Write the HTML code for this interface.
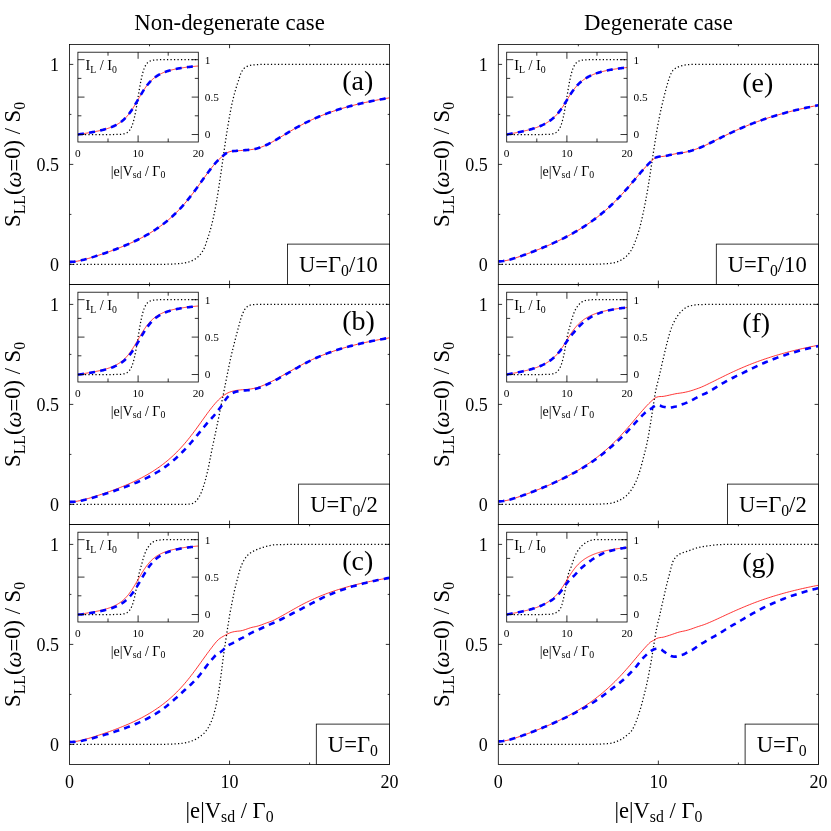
<!DOCTYPE html>
<html><head><meta charset="utf-8"><title>Noise figure</title>
<style>html,body{margin:0;padding:0;background:#fff;}body{width:831px;height:831px;overflow:hidden;transform:translateZ(0);font-family:"Liberation Serif",serif;}svg{display:block;will-change:transform}</style>
</head><body>
<svg width="831" height="831" viewBox="0 0 831 831" font-family='"Liberation Serif", serif' fill="#000">
<rect width="831" height="831" fill="#fff"/>
<clipPath id="c1"><rect x="69.5" y="44.4" width="320.1" height="240.0"/></clipPath>
<g clip-path="url(#c1)" fill="none">
<path d="M69.50,264.40 L71.10,264.40 L72.70,264.40 L74.30,264.40 L75.90,264.40 L77.50,264.40 L79.10,264.40 L80.70,264.40 L82.30,264.40 L83.90,264.40 L85.50,264.40 L87.11,264.40 L88.71,264.40 L90.31,264.40 L91.91,264.40 L93.51,264.40 L95.11,264.40 L96.71,264.40 L98.31,264.40 L99.91,264.40 L101.51,264.40 L103.11,264.40 L104.71,264.40 L106.31,264.40 L107.91,264.40 L109.51,264.40 L111.11,264.40 L112.71,264.40 L114.31,264.40 L115.91,264.40 L117.52,264.40 L119.12,264.40 L120.72,264.40 L122.32,264.40 L123.92,264.40 L125.52,264.40 L127.12,264.40 L128.72,264.40 L130.32,264.40 L131.92,264.40 L133.52,264.40 L135.12,264.40 L136.72,264.40 L138.32,264.40 L139.92,264.39 L141.52,264.39 L143.12,264.39 L144.72,264.39 L146.32,264.39 L147.92,264.39 L149.53,264.38 L151.13,264.38 L152.73,264.37 L154.33,264.37 L155.93,264.36 L157.53,264.35 L159.13,264.34 L160.73,264.33 L162.33,264.31 L163.93,264.29 L165.53,264.27 L167.13,264.24 L168.73,264.20 L170.33,264.16 L171.93,264.10 L173.53,264.04 L175.13,263.96 L176.73,263.86 L178.33,263.74 L179.93,263.59 L181.54,263.41 L183.14,263.19 L184.74,262.93 L186.34,262.61 L187.94,262.21 L189.54,261.73 L191.14,261.15 L192.74,260.44 L194.34,259.58 L195.94,258.53 L197.54,257.27 L199.14,255.74 L200.74,253.90 L202.34,251.69 L203.94,248.94 L205.54,244.87 L207.14,240.00 L208.74,235.10 L210.34,229.91 L211.94,223.89 L213.55,216.96 L215.15,209.08 L216.75,200.25 L218.35,190.50 L219.95,179.96 L221.55,168.94 L223.15,157.65 L224.75,146.29 L226.35,135.54 L227.95,125.56 L229.55,116.19 L231.15,107.61 L232.75,100.21 L234.35,94.12 L235.95,88.39 L237.55,83.38 L239.15,78.48 L240.75,73.63 L242.35,70.49 L243.95,68.42 L245.56,67.24 L247.16,66.39 L248.76,65.78 L250.36,65.36 L251.96,65.06 L253.56,64.85 L255.16,64.71 L256.76,64.61 L258.36,64.54 L259.96,64.50 L261.56,64.46 L263.16,64.44 L264.76,64.43 L266.36,64.42 L267.96,64.41 L269.56,64.41 L271.16,64.41 L272.76,64.40 L274.36,64.40 L275.96,64.40 L277.57,64.40 L279.17,64.40 L280.77,64.40 L282.37,64.40 L283.97,64.40 L285.57,64.40 L287.17,64.40 L288.77,64.40 L290.37,64.40 L291.97,64.40 L293.57,64.40 L295.17,64.40 L296.77,64.40 L298.37,64.40 L299.97,64.40 L301.57,64.40 L303.17,64.40 L304.77,64.40 L306.37,64.40 L307.97,64.40 L309.58,64.40 L311.18,64.40 L312.78,64.40 L314.38,64.40 L315.98,64.40 L317.58,64.40 L319.18,64.40 L320.78,64.40 L322.38,64.40 L323.98,64.40 L325.58,64.40 L327.18,64.40 L328.78,64.40 L330.38,64.40 L331.98,64.40 L333.58,64.40 L335.18,64.40 L336.78,64.40 L338.38,64.40 L339.98,64.40 L341.59,64.40 L343.19,64.40 L344.79,64.40 L346.39,64.40 L347.99,64.40 L349.59,64.40 L351.19,64.40 L352.79,64.40 L354.39,64.40 L355.99,64.40 L357.59,64.40 L359.19,64.40 L360.79,64.40 L362.39,64.40 L363.99,64.40 L365.59,64.40 L367.19,64.40 L368.79,64.40 L370.39,64.40 L371.99,64.40 L373.60,64.40 L375.20,64.40 L376.80,64.40 L378.40,64.40 L380.00,64.40 L381.60,64.40 L383.20,64.40 L384.80,64.40 L386.40,64.40 L388.00,64.40 L389.60,64.40" stroke="#000" stroke-width="1.25" stroke-dasharray="1.25 2.25"/>
<path d="M69.50,261.89 L71.10,261.86 L72.70,261.77 L74.30,261.61 L75.90,261.40 L77.50,261.13 L79.10,260.82 L80.70,260.47 L82.30,260.09 L83.90,259.69 L85.50,259.26 L87.11,258.81 L88.71,258.34 L90.31,257.87 L91.91,257.38 L93.51,256.88 L95.11,256.38 L96.71,255.86 L98.31,255.34 L99.91,254.82 L101.51,254.29 L103.11,253.75 L104.71,253.20 L106.31,252.65 L107.91,252.09 L109.51,251.52 L111.11,250.94 L112.71,250.36 L114.31,249.76 L115.91,249.16 L117.52,248.55 L119.12,247.93 L120.72,247.29 L122.32,246.65 L123.92,245.99 L125.52,245.32 L127.12,244.64 L128.72,243.95 L130.32,243.24 L131.92,242.52 L133.52,241.78 L135.12,241.02 L136.72,240.25 L138.32,239.46 L139.92,238.65 L141.52,237.82 L143.12,236.97 L144.72,236.09 L146.32,235.20 L147.92,234.28 L149.53,233.34 L151.13,232.37 L152.73,231.37 L154.33,230.34 L155.93,229.28 L157.53,228.20 L159.13,227.08 L160.73,225.92 L162.33,224.73 L163.93,223.50 L165.53,222.23 L167.13,220.93 L168.73,219.58 L170.33,218.18 L171.93,216.75 L173.53,215.26 L175.13,213.73 L176.73,212.15 L178.33,210.51 L179.93,208.83 L181.54,207.09 L183.14,205.31 L184.74,203.46 L186.34,201.57 L187.94,199.63 L189.54,197.63 L191.14,195.59 L192.74,193.51 L194.34,191.38 L195.94,189.22 L197.54,187.02 L199.14,184.81 L200.74,182.57 L202.34,180.33 L203.94,178.09 L205.54,175.86 L207.14,173.66 L208.74,171.49 L210.34,169.38 L211.94,167.33 L213.55,165.36 L215.15,163.48 L216.75,161.70 L218.35,160.04 L219.95,158.50 L221.55,157.10 L223.15,155.73 L224.75,154.38 L226.35,153.20 L227.95,152.31 L229.55,151.71 L231.15,151.34 L232.75,151.12 L234.35,150.99 L235.95,150.91 L237.55,150.79 L239.15,150.65 L240.75,150.52 L242.35,150.40 L243.95,150.28 L245.56,150.15 L247.16,150.01 L248.76,149.85 L250.36,149.69 L251.96,149.49 L253.56,149.23 L255.16,148.92 L256.76,148.54 L258.36,148.10 L259.96,147.60 L261.56,147.03 L263.16,146.41 L264.76,145.73 L266.36,145.00 L267.96,144.23 L269.56,143.41 L271.16,142.56 L272.76,141.68 L274.36,140.77 L275.96,139.84 L277.57,138.90 L279.17,137.94 L280.77,136.98 L282.37,136.00 L283.97,135.03 L285.57,134.06 L287.17,133.09 L288.77,132.13 L290.37,131.18 L291.97,130.24 L293.57,129.31 L295.17,128.39 L296.77,127.49 L298.37,126.60 L299.97,125.73 L301.57,124.87 L303.17,124.03 L304.77,123.20 L306.37,122.40 L307.97,121.61 L309.58,120.83 L311.18,120.08 L312.78,119.34 L314.38,118.62 L315.98,117.91 L317.58,117.22 L319.18,116.55 L320.78,115.89 L322.38,115.25 L323.98,114.62 L325.58,114.00 L327.18,113.40 L328.78,112.82 L330.38,112.24 L331.98,111.69 L333.58,111.14 L335.18,110.61 L336.78,110.08 L338.38,109.57 L339.98,109.07 L341.59,108.59 L343.19,108.11 L344.79,107.64 L346.39,107.19 L347.99,106.74 L349.59,106.30 L351.19,105.88 L352.79,105.46 L354.39,105.05 L355.99,104.65 L357.59,104.25 L359.19,103.87 L360.79,103.49 L362.39,103.12 L363.99,102.76 L365.59,102.40 L367.19,102.06 L368.79,101.72 L370.39,101.38 L371.99,101.05 L373.60,100.73 L375.20,100.41 L376.80,100.10 L378.40,99.80 L380.00,99.50 L381.60,99.20 L383.20,98.92 L384.80,98.63 L386.40,98.35 L388.00,98.08 L389.60,97.81" stroke="#ff0000" stroke-width="0.8"/>
<path d="M69.50,261.89 L71.10,261.86 L72.70,261.77 L74.30,261.61 L75.90,261.40 L77.50,261.13 L79.10,260.82 L80.70,260.47 L82.30,260.09 L83.90,259.69 L85.50,259.26 L87.11,258.81 L88.71,258.34 L90.31,257.87 L91.91,257.38 L93.51,256.88 L95.11,256.38 L96.71,255.86 L98.31,255.34 L99.91,254.82 L101.51,254.29 L103.11,253.75 L104.71,253.20 L106.31,252.65 L107.91,252.09 L109.51,251.52 L111.11,250.94 L112.71,250.36 L114.31,249.76 L115.91,249.16 L117.52,248.55 L119.12,247.93 L120.72,247.29 L122.32,246.65 L123.92,245.99 L125.52,245.32 L127.12,244.64 L128.72,243.95 L130.32,243.24 L131.92,242.52 L133.52,241.78 L135.12,241.02 L136.72,240.25 L138.32,239.46 L139.92,238.65 L141.52,237.82 L143.12,236.97 L144.72,236.09 L146.32,235.20 L147.92,234.28 L149.53,233.34 L151.13,232.37 L152.73,231.37 L154.33,230.34 L155.93,229.28 L157.53,228.20 L159.13,227.08 L160.73,225.92 L162.33,224.73 L163.93,223.50 L165.53,222.23 L167.13,220.93 L168.73,219.58 L170.33,218.18 L171.93,216.75 L173.53,215.26 L175.13,213.73 L176.73,212.15 L178.33,210.51 L179.93,208.83 L181.54,207.09 L183.14,205.31 L184.74,203.46 L186.34,201.57 L187.94,199.63 L189.54,197.63 L191.14,195.59 L192.74,193.51 L194.34,191.38 L195.94,189.22 L197.54,187.02 L199.14,184.81 L200.74,182.57 L202.34,180.33 L203.94,178.09 L205.54,175.86 L207.14,173.66 L208.74,171.49 L210.34,169.38 L211.94,167.33 L213.55,165.36 L215.15,163.48 L216.75,161.70 L218.35,160.04 L219.95,158.50 L221.55,157.10 L223.15,155.73 L224.75,154.38 L226.35,153.20 L227.95,152.31 L229.55,151.71 L231.15,151.34 L232.75,151.12 L234.35,150.99 L235.95,150.91 L237.55,150.79 L239.15,150.65 L240.75,150.52 L242.35,150.40 L243.95,150.28 L245.56,150.15 L247.16,150.01 L248.76,149.85 L250.36,149.69 L251.96,149.49 L253.56,149.23 L255.16,148.92 L256.76,148.54 L258.36,148.10 L259.96,147.60 L261.56,147.03 L263.16,146.41 L264.76,145.73 L266.36,145.00 L267.96,144.23 L269.56,143.41 L271.16,142.56 L272.76,141.68 L274.36,140.77 L275.96,139.84 L277.57,138.90 L279.17,137.94 L280.77,136.98 L282.37,136.00 L283.97,135.03 L285.57,134.06 L287.17,133.09 L288.77,132.13 L290.37,131.18 L291.97,130.24 L293.57,129.31 L295.17,128.39 L296.77,127.49 L298.37,126.60 L299.97,125.73 L301.57,124.87 L303.17,124.03 L304.77,123.20 L306.37,122.40 L307.97,121.61 L309.58,120.83 L311.18,120.08 L312.78,119.34 L314.38,118.62 L315.98,117.91 L317.58,117.22 L319.18,116.55 L320.78,115.89 L322.38,115.25 L323.98,114.62 L325.58,114.00 L327.18,113.40 L328.78,112.82 L330.38,112.24 L331.98,111.69 L333.58,111.14 L335.18,110.61 L336.78,110.08 L338.38,109.57 L339.98,109.07 L341.59,108.59 L343.19,108.11 L344.79,107.64 L346.39,107.19 L347.99,106.74 L349.59,106.30 L351.19,105.88 L352.79,105.46 L354.39,105.05 L355.99,104.65 L357.59,104.25 L359.19,103.87 L360.79,103.49 L362.39,103.12 L363.99,102.76 L365.59,102.40 L367.19,102.06 L368.79,101.72 L370.39,101.38 L371.99,101.05 L373.60,100.73 L375.20,100.41 L376.80,100.10 L378.40,99.80 L380.00,99.50 L381.60,99.20 L383.20,98.92 L384.80,98.63 L386.40,98.35 L388.00,98.08 L389.60,97.81" stroke="#0000ff" stroke-width="2.6" stroke-dasharray="6.1 5.2"/>
</g>
<path d="M229.55,284.40v-3.8M229.55,44.40v3.8M149.53,284.40v-1.9M149.53,44.40v1.9M309.58,284.40v-1.9M309.58,44.40v1.9M69.50,264.40h3.8M389.60,264.40h-3.8M69.50,164.40h3.8M389.60,164.40h-3.8M69.50,64.40h3.8M389.60,64.40h-3.8M69.50,214.40h1.9M389.60,214.40h-1.9M69.50,114.40h1.9M389.60,114.40h-1.9" stroke="#000" stroke-width="0.8" fill="none"/>
<rect x="69.5" y="44.4" width="320.1" height="240.0" fill="none" stroke="#000" stroke-width="0.8"/>
<text x="59.0" y="270.7" font-size="18" text-anchor="end">0</text>
<text x="59.0" y="170.7" font-size="18" text-anchor="end">0.5</text>
<text x="59.0" y="70.7" font-size="18" text-anchor="end">1</text>
<text transform="translate(19.7,164.4) rotate(-90)" font-size="22.6" text-anchor="middle">S<tspan font-size="15.8" dy="5">LL</tspan><tspan dy="-5">(</tspan><tspan font-style="italic" dy="0.8">ω</tspan><tspan dy="1.7">=</tspan><tspan dy="-2.5">0) / S</tspan><tspan font-size="15.8" dy="5">0</tspan></text>
<text x="342.3" y="89.6" font-size="28">(a)</text>
<rect x="287.50" y="244.10" width="102.10" height="40.3" fill="#fff" stroke="#000" stroke-width="0.8"/>
<text x="377.9" y="271.6" font-size="22.6" text-anchor="end">U=Γ<tspan font-size="15.8" dy="4.5">0</tspan><tspan dy="-4.5">/10</tspan></text>
<rect x="77.90" y="52.20" width="120.4" height="89.8" fill="#fff" stroke="none"/>
<clipPath id="c2"><rect x="77.90" y="52.20" width="120.4" height="89.8"/></clipPath>
<g clip-path="url(#c2)" fill="none">
<path d="M77.90,134.52 L78.50,134.52 L79.10,134.52 L79.71,134.52 L80.31,134.52 L80.91,134.52 L81.51,134.52 L82.11,134.52 L82.72,134.52 L83.32,134.52 L83.92,134.52 L84.52,134.52 L85.12,134.52 L85.73,134.52 L86.33,134.52 L86.93,134.52 L87.53,134.52 L88.13,134.52 L88.74,134.52 L89.34,134.52 L89.94,134.52 L90.54,134.52 L91.14,134.52 L91.75,134.52 L92.35,134.52 L92.95,134.52 L93.55,134.52 L94.15,134.52 L94.76,134.52 L95.36,134.52 L95.96,134.52 L96.56,134.52 L97.16,134.52 L97.77,134.52 L98.37,134.52 L98.97,134.52 L99.57,134.52 L100.17,134.52 L100.78,134.52 L101.38,134.52 L101.98,134.52 L102.58,134.52 L103.18,134.52 L103.79,134.52 L104.39,134.52 L104.99,134.52 L105.59,134.52 L106.19,134.51 L106.80,134.51 L107.40,134.51 L108.00,134.51 L108.60,134.51 L109.20,134.51 L109.81,134.51 L110.41,134.51 L111.01,134.51 L111.61,134.51 L112.21,134.50 L112.82,134.50 L113.42,134.50 L114.02,134.49 L114.62,134.49 L115.22,134.48 L115.83,134.47 L116.43,134.46 L117.03,134.45 L117.63,134.43 L118.23,134.42 L118.84,134.39 L119.44,134.37 L120.04,134.33 L120.64,134.29 L121.24,134.24 L121.85,134.18 L122.45,134.11 L123.05,134.02 L123.65,133.91 L124.25,133.77 L124.86,133.61 L125.46,133.41 L126.06,133.17 L126.66,132.88 L127.26,132.53 L127.87,132.10 L128.47,131.59 L129.07,130.97 L129.67,130.23 L130.27,129.34 L130.88,128.29 L131.48,127.05 L132.08,125.60 L132.68,123.90 L133.28,121.95 L133.89,119.71 L134.49,117.19 L135.09,114.39 L135.69,111.32 L136.29,108.00 L136.90,104.49 L137.50,100.83 L138.10,97.10 L138.70,93.37 L139.30,89.71 L139.91,86.20 L140.51,82.88 L141.11,79.81 L141.71,77.01 L142.31,74.49 L142.92,72.25 L143.52,70.30 L144.12,68.60 L144.72,67.15 L145.32,65.91 L145.93,64.86 L146.53,63.97 L147.13,63.23 L147.73,62.61 L148.33,62.10 L148.94,61.67 L149.54,61.32 L150.14,61.03 L150.74,60.79 L151.34,60.59 L151.95,60.43 L152.55,60.29 L153.15,60.18 L153.75,60.09 L154.35,60.02 L154.96,59.96 L155.56,59.91 L156.16,59.87 L156.76,59.83 L157.36,59.81 L157.97,59.78 L158.57,59.77 L159.17,59.75 L159.77,59.74 L160.37,59.73 L160.98,59.72 L161.58,59.71 L162.18,59.71 L162.78,59.70 L163.38,59.70 L163.99,59.70 L164.59,59.69 L165.19,59.69 L165.79,59.69 L166.39,59.69 L167.00,59.69 L167.60,59.69 L168.20,59.69 L168.80,59.69 L169.40,59.69 L170.01,59.69 L170.61,59.68 L171.21,59.68 L171.81,59.68 L172.41,59.68 L173.02,59.68 L173.62,59.68 L174.22,59.68 L174.82,59.68 L175.42,59.68 L176.03,59.68 L176.63,59.68 L177.23,59.68 L177.83,59.68 L178.43,59.68 L179.04,59.68 L179.64,59.68 L180.24,59.68 L180.84,59.68 L181.44,59.68 L182.05,59.68 L182.65,59.68 L183.25,59.68 L183.85,59.68 L184.45,59.68 L185.06,59.68 L185.66,59.68 L186.26,59.68 L186.86,59.68 L187.46,59.68 L188.07,59.68 L188.67,59.68 L189.27,59.68 L189.87,59.68 L190.47,59.68 L191.08,59.68 L191.68,59.68 L192.28,59.68 L192.88,59.68 L193.48,59.68 L194.09,59.68 L194.69,59.68 L195.29,59.68 L195.89,59.68 L196.49,59.68 L197.10,59.68 L197.70,59.68 L198.30,59.68" stroke="#000" stroke-width="1.25" stroke-dasharray="1.25 2.25"/>
<path d="M77.90,134.52 L78.50,134.42 L79.10,134.33 L79.71,134.24 L80.31,134.14 L80.91,134.05 L81.51,133.95 L82.11,133.86 L82.72,133.76 L83.32,133.67 L83.92,133.57 L84.52,133.47 L85.12,133.38 L85.73,133.28 L86.33,133.18 L86.93,133.08 L87.53,132.98 L88.13,132.88 L88.74,132.77 L89.34,132.67 L89.94,132.57 L90.54,132.46 L91.14,132.35 L91.75,132.24 L92.35,132.13 L92.95,132.02 L93.55,131.91 L94.15,131.79 L94.76,131.68 L95.36,131.56 L95.96,131.44 L96.56,131.31 L97.16,131.19 L97.77,131.06 L98.37,130.93 L98.97,130.80 L99.57,130.66 L100.17,130.52 L100.78,130.38 L101.38,130.24 L101.98,130.09 L102.58,129.94 L103.18,129.78 L103.79,129.62 L104.39,129.46 L104.99,129.29 L105.59,129.11 L106.19,128.93 L106.80,128.75 L107.40,128.56 L108.00,128.37 L108.60,128.17 L109.20,127.96 L109.81,127.74 L110.41,127.52 L111.01,127.29 L111.61,127.05 L112.21,126.81 L112.82,126.55 L113.42,126.29 L114.02,126.01 L114.62,125.73 L115.22,125.43 L115.83,125.12 L116.43,124.80 L117.03,124.47 L117.63,124.12 L118.23,123.76 L118.84,123.38 L119.44,122.98 L120.04,122.57 L120.64,122.14 L121.24,121.69 L121.85,121.22 L122.45,120.73 L123.05,120.22 L123.65,119.69 L124.25,119.13 L124.86,118.55 L125.46,117.94 L126.06,117.31 L126.66,116.65 L127.26,115.97 L127.87,115.26 L128.47,114.52 L129.07,113.75 L129.67,112.95 L130.27,112.13 L130.88,111.28 L131.48,110.40 L132.08,109.50 L132.68,108.57 L133.28,107.63 L133.89,106.66 L134.49,105.67 L135.09,104.66 L135.69,103.64 L136.29,102.61 L136.90,101.57 L137.50,100.53 L138.10,99.48 L138.70,98.43 L139.30,97.38 L139.91,96.35 L140.51,95.32 L141.11,94.30 L141.71,93.29 L142.31,92.31 L142.92,91.34 L143.52,90.39 L144.12,89.47 L144.72,88.57 L145.32,87.70 L145.93,86.85 L146.53,86.03 L147.13,85.24 L147.73,84.47 L148.33,83.74 L148.94,83.03 L149.54,82.35 L150.14,81.69 L150.74,81.07 L151.34,80.46 L151.95,79.89 L152.55,79.34 L153.15,78.81 L153.75,78.31 L154.35,77.82 L154.96,77.36 L155.56,76.92 L156.16,76.50 L156.76,76.09 L157.36,75.70 L157.97,75.33 L158.57,74.98 L159.17,74.64 L159.77,74.31 L160.37,74.00 L160.98,73.70 L161.58,73.42 L162.18,73.14 L162.78,72.88 L163.38,72.62 L163.99,72.38 L164.59,72.14 L165.19,71.92 L165.79,71.70 L166.39,71.49 L167.00,71.29 L167.60,71.09 L168.20,70.91 L168.80,70.72 L169.40,70.55 L170.01,70.38 L170.61,70.22 L171.21,70.06 L171.81,69.90 L172.41,69.76 L173.02,69.61 L173.62,69.47 L174.22,69.34 L174.82,69.21 L175.42,69.08 L176.03,68.95 L176.63,68.83 L177.23,68.72 L177.83,68.60 L178.43,68.49 L179.04,68.39 L179.64,68.28 L180.24,68.18 L180.84,68.08 L181.44,67.98 L182.05,67.89 L182.65,67.80 L183.25,67.71 L183.85,67.62 L184.45,67.53 L185.06,67.45 L185.66,67.37 L186.26,67.29 L186.86,67.21 L187.46,67.14 L188.07,67.06 L188.67,66.99 L189.27,66.92 L189.87,66.85 L190.47,66.78 L191.08,66.71 L191.68,66.65 L192.28,66.58 L192.88,66.52 L193.48,66.46 L194.09,66.40 L194.69,66.34 L195.29,66.28 L195.89,66.23 L196.49,66.17 L197.10,66.12 L197.70,66.06 L198.30,66.01" stroke="#ff0000" stroke-width="0.8"/>
<path d="M77.90,134.52 L78.50,134.42 L79.10,134.33 L79.71,134.24 L80.31,134.14 L80.91,134.05 L81.51,133.95 L82.11,133.86 L82.72,133.76 L83.32,133.67 L83.92,133.57 L84.52,133.47 L85.12,133.38 L85.73,133.28 L86.33,133.18 L86.93,133.08 L87.53,132.98 L88.13,132.88 L88.74,132.77 L89.34,132.67 L89.94,132.57 L90.54,132.46 L91.14,132.35 L91.75,132.24 L92.35,132.13 L92.95,132.02 L93.55,131.91 L94.15,131.79 L94.76,131.68 L95.36,131.56 L95.96,131.44 L96.56,131.31 L97.16,131.19 L97.77,131.06 L98.37,130.93 L98.97,130.80 L99.57,130.66 L100.17,130.52 L100.78,130.38 L101.38,130.24 L101.98,130.09 L102.58,129.94 L103.18,129.78 L103.79,129.62 L104.39,129.46 L104.99,129.29 L105.59,129.11 L106.19,128.93 L106.80,128.75 L107.40,128.56 L108.00,128.37 L108.60,128.17 L109.20,127.96 L109.81,127.74 L110.41,127.52 L111.01,127.29 L111.61,127.05 L112.21,126.81 L112.82,126.55 L113.42,126.29 L114.02,126.01 L114.62,125.73 L115.22,125.43 L115.83,125.12 L116.43,124.80 L117.03,124.47 L117.63,124.12 L118.23,123.76 L118.84,123.38 L119.44,122.98 L120.04,122.57 L120.64,122.14 L121.24,121.69 L121.85,121.22 L122.45,120.73 L123.05,120.22 L123.65,119.69 L124.25,119.13 L124.86,118.55 L125.46,117.94 L126.06,117.31 L126.66,116.65 L127.26,115.97 L127.87,115.26 L128.47,114.52 L129.07,113.75 L129.67,112.95 L130.27,112.13 L130.88,111.28 L131.48,110.40 L132.08,109.50 L132.68,108.57 L133.28,107.63 L133.89,106.66 L134.49,105.67 L135.09,104.66 L135.69,103.64 L136.29,102.61 L136.90,101.57 L137.50,100.53 L138.10,99.48 L138.70,98.43 L139.30,97.38 L139.91,96.35 L140.51,95.32 L141.11,94.30 L141.71,93.29 L142.31,92.31 L142.92,91.34 L143.52,90.39 L144.12,89.47 L144.72,88.57 L145.32,87.70 L145.93,86.85 L146.53,86.03 L147.13,85.24 L147.73,84.47 L148.33,83.74 L148.94,83.03 L149.54,82.35 L150.14,81.69 L150.74,81.07 L151.34,80.46 L151.95,79.89 L152.55,79.34 L153.15,78.81 L153.75,78.31 L154.35,77.82 L154.96,77.36 L155.56,76.92 L156.16,76.50 L156.76,76.09 L157.36,75.70 L157.97,75.33 L158.57,74.98 L159.17,74.64 L159.77,74.31 L160.37,74.00 L160.98,73.70 L161.58,73.42 L162.18,73.14 L162.78,72.88 L163.38,72.62 L163.99,72.38 L164.59,72.14 L165.19,71.92 L165.79,71.70 L166.39,71.49 L167.00,71.29 L167.60,71.09 L168.20,70.91 L168.80,70.72 L169.40,70.55 L170.01,70.38 L170.61,70.22 L171.21,70.06 L171.81,69.90 L172.41,69.76 L173.02,69.61 L173.62,69.47 L174.22,69.34 L174.82,69.21 L175.42,69.08 L176.03,68.95 L176.63,68.83 L177.23,68.72 L177.83,68.60 L178.43,68.49 L179.04,68.39 L179.64,68.28 L180.24,68.18 L180.84,68.08 L181.44,67.98 L182.05,67.89 L182.65,67.80 L183.25,67.71 L183.85,67.62 L184.45,67.53 L185.06,67.45 L185.66,67.37 L186.26,67.29 L186.86,67.21 L187.46,67.14 L188.07,67.06 L188.67,66.99 L189.27,66.92 L189.87,66.85 L190.47,66.78 L191.08,66.71 L191.68,66.65 L192.28,66.58 L192.88,66.52 L193.48,66.46 L194.09,66.40 L194.69,66.34 L195.29,66.28 L195.89,66.23 L196.49,66.17 L197.10,66.12 L197.70,66.06 L198.30,66.01" stroke="#0000ff" stroke-width="2.6" stroke-dasharray="6.1 5.2"/>
</g>
<path d="M138.10,142.00v-6.6M138.10,52.20v6.6M108.00,142.00v-3.5M108.00,52.20v3.5M168.20,142.00v-3.5M168.20,52.20v3.5M77.90,134.52h6.6M198.30,134.52h-6.6M77.90,97.10h6.6M198.30,97.10h-6.6M77.90,59.68h6.6M198.30,59.68h-6.6M77.90,115.81h3.5M198.30,115.81h-3.5M77.90,78.39h3.5M198.30,78.39h-3.5" stroke="#000" stroke-width="0.8" fill="none"/>
<rect x="77.90" y="52.20" width="120.4" height="89.8" fill="none" stroke="#000" stroke-width="0.8"/>
<text x="77.9" y="156.9" font-size="11.3" text-anchor="middle">0</text>
<text x="138.1" y="156.9" font-size="11.3" text-anchor="middle">10</text>
<text x="198.3" y="156.9" font-size="11.3" text-anchor="middle">20</text>
<text x="204.8" y="138.3" font-size="11.3">0</text>
<text x="204.8" y="100.9" font-size="11.3">0.5</text>
<text x="204.8" y="63.5" font-size="11.3">1</text>
<text x="85.4" y="70.4" font-size="14.3">I<tspan font-size="9.8" dy="2.8">L</tspan><tspan dy="-2.8"> / I</tspan><tspan font-size="9.8" dy="2.8">0</tspan></text>
<text x="138.1" y="175.6" font-size="14" text-anchor="middle">|e|V<tspan font-size="9.8" dy="2.8">sd</tspan><tspan dy="-2.8"> / Γ</tspan><tspan font-size="9.8" dy="2.8">0</tspan></text>
<clipPath id="c3"><rect x="69.5" y="284.4" width="320.1" height="240.0"/></clipPath>
<g clip-path="url(#c3)" fill="none">
<path d="M69.50,504.40 L71.10,504.40 L72.70,504.40 L74.30,504.40 L75.90,504.40 L77.50,504.40 L79.10,504.40 L80.70,504.40 L82.30,504.40 L83.90,504.40 L85.50,504.40 L87.11,504.40 L88.71,504.40 L90.31,504.40 L91.91,504.40 L93.51,504.40 L95.11,504.40 L96.71,504.40 L98.31,504.40 L99.91,504.40 L101.51,504.40 L103.11,504.40 L104.71,504.40 L106.31,504.40 L107.91,504.40 L109.51,504.40 L111.11,504.40 L112.71,504.40 L114.31,504.40 L115.91,504.40 L117.52,504.40 L119.12,504.40 L120.72,504.40 L122.32,504.40 L123.92,504.40 L125.52,504.40 L127.12,504.40 L128.72,504.40 L130.32,504.40 L131.92,504.40 L133.52,504.40 L135.12,504.40 L136.72,504.40 L138.32,504.40 L139.92,504.40 L141.52,504.40 L143.12,504.40 L144.72,504.40 L146.32,504.40 L147.92,504.40 L149.53,504.40 L151.13,504.40 L152.73,504.40 L154.33,504.40 L155.93,504.40 L157.53,504.40 L159.13,504.40 L160.73,504.40 L162.33,504.40 L163.93,504.40 L165.53,504.40 L167.13,504.40 L168.73,504.40 L170.33,504.40 L171.93,504.40 L173.53,504.40 L175.13,504.40 L176.73,504.39 L178.33,504.38 L179.93,504.36 L181.54,504.34 L183.14,504.32 L184.74,504.30 L186.34,504.27 L187.94,504.23 L189.54,504.17 L191.14,504.04 L192.74,503.44 L194.34,502.50 L195.94,501.19 L197.54,499.26 L199.14,496.86 L200.74,493.76 L202.34,489.69 L203.94,485.02 L205.54,479.49 L207.14,473.11 L208.74,466.01 L210.34,457.79 L211.94,449.62 L213.55,441.99 L215.15,434.51 L216.75,426.94 L218.35,419.15 L219.95,411.23 L221.55,403.22 L223.15,395.17 L224.75,387.13 L226.35,379.15 L227.95,371.22 L229.55,363.24 L231.15,355.90 L232.75,349.29 L234.35,342.97 L235.95,336.76 L237.55,330.76 L239.15,324.78 L240.75,318.93 L242.35,314.40 L243.95,310.72 L245.56,308.16 L247.16,306.72 L248.76,305.64 L250.36,305.03 L251.96,304.77 L253.56,304.57 L255.16,304.45 L256.76,304.40 L258.36,304.40 L259.96,304.40 L261.56,304.40 L263.16,304.40 L264.76,304.40 L266.36,304.40 L267.96,304.40 L269.56,304.40 L271.16,304.40 L272.76,304.40 L274.36,304.40 L275.96,304.40 L277.57,304.40 L279.17,304.40 L280.77,304.40 L282.37,304.40 L283.97,304.40 L285.57,304.40 L287.17,304.40 L288.77,304.40 L290.37,304.40 L291.97,304.40 L293.57,304.40 L295.17,304.40 L296.77,304.40 L298.37,304.40 L299.97,304.40 L301.57,304.40 L303.17,304.40 L304.77,304.40 L306.37,304.40 L307.97,304.40 L309.58,304.40 L311.18,304.40 L312.78,304.40 L314.38,304.40 L315.98,304.40 L317.58,304.40 L319.18,304.40 L320.78,304.40 L322.38,304.40 L323.98,304.40 L325.58,304.40 L327.18,304.40 L328.78,304.40 L330.38,304.40 L331.98,304.40 L333.58,304.40 L335.18,304.40 L336.78,304.40 L338.38,304.40 L339.98,304.40 L341.59,304.40 L343.19,304.40 L344.79,304.40 L346.39,304.40 L347.99,304.40 L349.59,304.40 L351.19,304.40 L352.79,304.40 L354.39,304.40 L355.99,304.40 L357.59,304.40 L359.19,304.40 L360.79,304.40 L362.39,304.40 L363.99,304.40 L365.59,304.40 L367.19,304.40 L368.79,304.40 L370.39,304.40 L371.99,304.40 L373.60,304.40 L375.20,304.40 L376.80,304.40 L378.40,304.40 L380.00,304.40 L381.60,304.40 L383.20,304.40 L384.80,304.40 L386.40,304.40 L388.00,304.40 L389.60,304.40" stroke="#000" stroke-width="1.25" stroke-dasharray="1.25 2.25"/>
<path d="M69.50,501.89 L71.10,501.86 L72.70,501.77 L74.30,501.61 L75.90,501.40 L77.50,501.13 L79.10,500.82 L80.70,500.47 L82.30,500.09 L83.90,499.69 L85.50,499.26 L87.11,498.81 L88.71,498.34 L90.31,497.87 L91.91,497.38 L93.51,496.88 L95.11,496.38 L96.71,495.86 L98.31,495.34 L99.91,494.82 L101.51,494.29 L103.11,493.75 L104.71,493.20 L106.31,492.65 L107.91,492.09 L109.51,491.52 L111.11,490.94 L112.71,490.36 L114.31,489.76 L115.91,489.16 L117.52,488.55 L119.12,487.93 L120.72,487.29 L122.32,486.65 L123.92,485.99 L125.52,485.32 L127.12,484.64 L128.72,483.95 L130.32,483.24 L131.92,482.52 L133.52,481.78 L135.12,481.02 L136.72,480.25 L138.32,479.46 L139.92,478.65 L141.52,477.82 L143.12,476.97 L144.72,476.09 L146.32,475.20 L147.92,474.28 L149.53,473.34 L151.13,472.37 L152.73,471.37 L154.33,470.34 L155.93,469.28 L157.53,468.20 L159.13,467.08 L160.73,465.92 L162.33,464.73 L163.93,463.50 L165.53,462.23 L167.13,460.93 L168.73,459.58 L170.33,458.18 L171.93,456.75 L173.53,455.26 L175.13,453.73 L176.73,452.15 L178.33,450.51 L179.93,448.83 L181.54,447.09 L183.14,445.31 L184.74,443.46 L186.34,441.57 L187.94,439.63 L189.54,437.63 L191.14,435.59 L192.74,433.51 L194.34,431.38 L195.94,429.22 L197.54,427.02 L199.14,424.81 L200.74,422.57 L202.34,420.33 L203.94,418.09 L205.54,415.86 L207.14,413.66 L208.74,411.49 L210.34,409.38 L211.94,407.33 L213.55,405.36 L215.15,403.48 L216.75,401.70 L218.35,400.04 L219.95,398.50 L221.55,397.10 L223.15,395.84 L224.75,394.72 L226.35,393.74 L227.95,392.90 L229.55,392.20 L231.15,391.63 L232.75,391.17 L234.35,390.79 L235.95,390.48 L237.55,390.24 L239.15,390.04 L240.75,389.89 L242.35,389.75 L243.95,389.63 L245.56,389.50 L247.16,389.37 L248.76,389.21 L250.36,389.01 L251.96,388.76 L253.56,388.46 L255.16,388.09 L256.76,387.67 L258.36,387.19 L259.96,386.65 L261.56,386.05 L263.16,385.41 L264.76,384.73 L266.36,384.01 L267.96,383.27 L269.56,382.50 L271.16,381.71 L272.76,380.89 L274.36,380.05 L275.96,379.19 L277.57,378.30 L279.17,377.40 L280.77,376.51 L282.37,375.61 L283.97,374.72 L285.57,373.83 L287.17,372.93 L288.77,372.04 L290.37,371.14 L291.97,370.23 L293.57,369.31 L295.17,368.39 L296.77,367.49 L298.37,366.60 L299.97,365.73 L301.57,364.87 L303.17,364.03 L304.77,363.20 L306.37,362.40 L307.97,361.61 L309.58,360.83 L311.18,360.08 L312.78,359.34 L314.38,358.62 L315.98,357.91 L317.58,357.22 L319.18,356.55 L320.78,355.89 L322.38,355.25 L323.98,354.62 L325.58,354.00 L327.18,353.40 L328.78,352.82 L330.38,352.24 L331.98,351.69 L333.58,351.14 L335.18,350.61 L336.78,350.08 L338.38,349.57 L339.98,349.07 L341.59,348.59 L343.19,348.11 L344.79,347.64 L346.39,347.19 L347.99,346.74 L349.59,346.30 L351.19,345.88 L352.79,345.46 L354.39,345.05 L355.99,344.65 L357.59,344.25 L359.19,343.87 L360.79,343.49 L362.39,343.12 L363.99,342.76 L365.59,342.40 L367.19,342.06 L368.79,341.72 L370.39,341.38 L371.99,341.05 L373.60,340.73 L375.20,340.41 L376.80,340.10 L378.40,339.80 L380.00,339.50 L381.60,339.20 L383.20,338.92 L384.80,338.63 L386.40,338.35 L388.00,338.08 L389.60,337.81" stroke="#ff0000" stroke-width="0.8"/>
<path d="M69.50,501.89 L71.10,501.90 L72.70,501.84 L74.30,501.72 L75.90,501.55 L77.50,501.32 L79.10,501.05 L80.70,500.74 L82.30,500.40 L83.90,500.03 L85.50,499.64 L87.11,499.24 L88.71,498.81 L90.31,498.38 L91.91,497.93 L93.51,497.48 L95.11,497.02 L96.71,496.55 L98.31,496.07 L99.91,495.58 L101.51,495.09 L103.11,494.59 L104.71,494.09 L106.31,493.57 L107.91,493.05 L109.51,492.53 L111.11,491.99 L112.71,491.45 L114.31,490.91 L115.91,490.35 L117.52,489.79 L119.12,489.22 L120.72,488.64 L122.32,488.06 L123.92,487.46 L125.52,486.86 L127.12,486.24 L128.72,485.62 L130.32,485.00 L131.92,484.37 L133.52,483.74 L135.12,483.10 L136.72,482.44 L138.32,481.77 L139.92,481.08 L141.52,480.38 L143.12,479.65 L144.72,478.89 L146.32,478.12 L147.92,477.32 L149.53,476.50 L151.13,475.66 L152.73,474.79 L154.33,473.89 L155.93,472.97 L157.53,472.01 L159.13,471.02 L160.73,469.99 L162.33,468.93 L163.93,467.83 L165.53,466.68 L167.13,465.49 L168.73,464.26 L170.33,462.99 L171.93,461.67 L173.53,460.31 L175.13,458.90 L176.73,457.45 L178.33,455.96 L179.93,454.43 L181.54,452.85 L183.14,451.23 L184.74,449.57 L186.34,447.86 L187.94,446.11 L189.54,444.32 L191.14,442.49 L192.74,440.62 L194.34,438.72 L195.94,436.78 L197.54,434.82 L199.14,432.86 L200.74,430.90 L202.34,428.94 L203.94,427.00 L205.54,425.06 L207.14,423.19 L208.74,421.41 L210.34,419.67 L211.94,417.92 L213.55,416.13 L215.15,414.24 L216.75,412.20 L218.35,410.08 L219.95,407.96 L221.55,405.86 L223.15,403.36 L224.75,400.74 L226.35,398.53 L227.95,396.64 L229.55,395.01 L231.15,393.83 L232.75,393.01 L234.35,392.32 L235.95,391.77 L237.55,391.35 L239.15,391.06 L240.75,390.87 L242.35,390.71 L243.95,390.56 L245.56,390.42 L247.16,390.27 L248.76,390.10 L250.36,389.89 L251.96,389.63 L253.56,389.32 L255.16,388.95 L256.76,388.51 L258.36,388.02 L259.96,387.48 L261.56,386.88 L263.16,386.23 L264.76,385.53 L266.36,384.80 L267.96,384.05 L269.56,383.27 L271.16,382.47 L272.76,381.64 L274.36,380.79 L275.96,379.91 L277.57,379.02 L279.17,378.11 L280.77,377.21 L282.37,376.30 L283.97,375.40 L285.57,374.50 L287.17,373.59 L288.77,372.68 L290.37,371.77 L291.97,370.84 L293.57,369.91 L295.17,368.97 L296.77,368.04 L298.37,367.13 L299.97,366.22 L301.57,365.33 L303.17,364.45 L304.77,363.59 L306.37,362.74 L307.97,361.91 L309.58,361.09 L311.18,360.30 L312.78,359.52 L314.38,358.76 L315.98,358.02 L317.58,357.30 L319.18,356.60 L320.78,355.92 L322.38,355.26 L323.98,354.62 L325.58,354.00 L327.18,353.40 L328.78,352.82 L330.38,352.24 L331.98,351.69 L333.58,351.14 L335.18,350.61 L336.78,350.08 L338.38,349.57 L339.98,349.07 L341.59,348.59 L343.19,348.11 L344.79,347.64 L346.39,347.19 L347.99,346.74 L349.59,346.30 L351.19,345.88 L352.79,345.46 L354.39,345.05 L355.99,344.65 L357.59,344.25 L359.19,343.87 L360.79,343.49 L362.39,343.12 L363.99,342.76 L365.59,342.40 L367.19,342.06 L368.79,341.72 L370.39,341.38 L371.99,341.05 L373.60,340.73 L375.20,340.41 L376.80,340.10 L378.40,339.80 L380.00,339.50 L381.60,339.20 L383.20,338.92 L384.80,338.63 L386.40,338.35 L388.00,338.08 L389.60,337.81" stroke="#0000ff" stroke-width="2.6" stroke-dasharray="6.1 5.2"/>
</g>
<path d="M229.55,524.40v-3.8M229.55,284.40v3.8M149.53,524.40v-1.9M149.53,284.40v1.9M309.58,524.40v-1.9M309.58,284.40v1.9M69.50,504.40h3.8M389.60,504.40h-3.8M69.50,404.40h3.8M389.60,404.40h-3.8M69.50,304.40h3.8M389.60,304.40h-3.8M69.50,454.40h1.9M389.60,454.40h-1.9M69.50,354.40h1.9M389.60,354.40h-1.9" stroke="#000" stroke-width="0.8" fill="none"/>
<rect x="69.5" y="284.4" width="320.1" height="240.0" fill="none" stroke="#000" stroke-width="0.8"/>
<text x="59.0" y="510.7" font-size="18" text-anchor="end">0</text>
<text x="59.0" y="410.7" font-size="18" text-anchor="end">0.5</text>
<text x="59.0" y="310.7" font-size="18" text-anchor="end">1</text>
<text transform="translate(19.7,404.4) rotate(-90)" font-size="22.6" text-anchor="middle">S<tspan font-size="15.8" dy="5">LL</tspan><tspan dy="-5">(</tspan><tspan font-style="italic" dy="0.8">ω</tspan><tspan dy="1.7">=</tspan><tspan dy="-2.5">0) / S</tspan><tspan font-size="15.8" dy="5">0</tspan></text>
<text x="342.3" y="329.6" font-size="28">(b)</text>
<rect x="298.60" y="484.10" width="91.00" height="40.3" fill="#fff" stroke="#000" stroke-width="0.8"/>
<text x="377.9" y="511.6" font-size="22.6" text-anchor="end">U=Γ<tspan font-size="15.8" dy="4.5">0</tspan><tspan dy="-4.5">/2</tspan></text>
<rect x="77.90" y="292.20" width="120.4" height="89.8" fill="#fff" stroke="none"/>
<clipPath id="c4"><rect x="77.90" y="292.20" width="120.4" height="89.8"/></clipPath>
<g clip-path="url(#c4)" fill="none">
<path d="M77.90,374.52 L78.50,374.52 L79.10,374.52 L79.71,374.52 L80.31,374.52 L80.91,374.52 L81.51,374.52 L82.11,374.52 L82.72,374.52 L83.32,374.52 L83.92,374.52 L84.52,374.52 L85.12,374.52 L85.73,374.52 L86.33,374.52 L86.93,374.52 L87.53,374.52 L88.13,374.52 L88.74,374.52 L89.34,374.52 L89.94,374.52 L90.54,374.52 L91.14,374.52 L91.75,374.52 L92.35,374.52 L92.95,374.52 L93.55,374.52 L94.15,374.52 L94.76,374.52 L95.36,374.52 L95.96,374.52 L96.56,374.52 L97.16,374.52 L97.77,374.52 L98.37,374.52 L98.97,374.52 L99.57,374.52 L100.17,374.52 L100.78,374.52 L101.38,374.52 L101.98,374.52 L102.58,374.52 L103.18,374.52 L103.79,374.52 L104.39,374.52 L104.99,374.52 L105.59,374.52 L106.19,374.51 L106.80,374.51 L107.40,374.51 L108.00,374.51 L108.60,374.51 L109.20,374.51 L109.81,374.51 L110.41,374.51 L111.01,374.51 L111.61,374.51 L112.21,374.50 L112.82,374.50 L113.42,374.50 L114.02,374.49 L114.62,374.49 L115.22,374.48 L115.83,374.47 L116.43,374.46 L117.03,374.45 L117.63,374.43 L118.23,374.42 L118.84,374.39 L119.44,374.37 L120.04,374.33 L120.64,374.29 L121.24,374.24 L121.85,374.18 L122.45,374.11 L123.05,374.02 L123.65,373.91 L124.25,373.77 L124.86,373.61 L125.46,373.41 L126.06,373.17 L126.66,372.88 L127.26,372.53 L127.87,372.10 L128.47,371.59 L129.07,370.97 L129.67,370.23 L130.27,369.34 L130.88,368.29 L131.48,367.05 L132.08,365.60 L132.68,363.90 L133.28,361.95 L133.89,359.71 L134.49,357.19 L135.09,354.39 L135.69,351.32 L136.29,348.00 L136.90,344.49 L137.50,340.83 L138.10,337.10 L138.70,333.37 L139.30,329.71 L139.91,326.20 L140.51,322.88 L141.11,319.81 L141.71,317.01 L142.31,314.49 L142.92,312.25 L143.52,310.30 L144.12,308.60 L144.72,307.15 L145.32,305.91 L145.93,304.86 L146.53,303.97 L147.13,303.23 L147.73,302.61 L148.33,302.10 L148.94,301.67 L149.54,301.32 L150.14,301.03 L150.74,300.79 L151.34,300.59 L151.95,300.43 L152.55,300.29 L153.15,300.18 L153.75,300.09 L154.35,300.02 L154.96,299.96 L155.56,299.91 L156.16,299.87 L156.76,299.83 L157.36,299.81 L157.97,299.78 L158.57,299.77 L159.17,299.75 L159.77,299.74 L160.37,299.73 L160.98,299.72 L161.58,299.71 L162.18,299.71 L162.78,299.70 L163.38,299.70 L163.99,299.70 L164.59,299.69 L165.19,299.69 L165.79,299.69 L166.39,299.69 L167.00,299.69 L167.60,299.69 L168.20,299.69 L168.80,299.69 L169.40,299.69 L170.01,299.69 L170.61,299.68 L171.21,299.68 L171.81,299.68 L172.41,299.68 L173.02,299.68 L173.62,299.68 L174.22,299.68 L174.82,299.68 L175.42,299.68 L176.03,299.68 L176.63,299.68 L177.23,299.68 L177.83,299.68 L178.43,299.68 L179.04,299.68 L179.64,299.68 L180.24,299.68 L180.84,299.68 L181.44,299.68 L182.05,299.68 L182.65,299.68 L183.25,299.68 L183.85,299.68 L184.45,299.68 L185.06,299.68 L185.66,299.68 L186.26,299.68 L186.86,299.68 L187.46,299.68 L188.07,299.68 L188.67,299.68 L189.27,299.68 L189.87,299.68 L190.47,299.68 L191.08,299.68 L191.68,299.68 L192.28,299.68 L192.88,299.68 L193.48,299.68 L194.09,299.68 L194.69,299.68 L195.29,299.68 L195.89,299.68 L196.49,299.68 L197.10,299.68 L197.70,299.68 L198.30,299.68" stroke="#000" stroke-width="1.25" stroke-dasharray="1.25 2.25"/>
<path d="M77.90,374.52 L78.50,374.42 L79.10,374.33 L79.71,374.24 L80.31,374.14 L80.91,374.05 L81.51,373.95 L82.11,373.86 L82.72,373.76 L83.32,373.67 L83.92,373.57 L84.52,373.47 L85.12,373.38 L85.73,373.28 L86.33,373.18 L86.93,373.08 L87.53,372.98 L88.13,372.88 L88.74,372.77 L89.34,372.67 L89.94,372.57 L90.54,372.46 L91.14,372.35 L91.75,372.24 L92.35,372.13 L92.95,372.02 L93.55,371.91 L94.15,371.79 L94.76,371.68 L95.36,371.56 L95.96,371.44 L96.56,371.31 L97.16,371.19 L97.77,371.06 L98.37,370.93 L98.97,370.80 L99.57,370.66 L100.17,370.52 L100.78,370.38 L101.38,370.24 L101.98,370.09 L102.58,369.94 L103.18,369.78 L103.79,369.62 L104.39,369.46 L104.99,369.29 L105.59,369.11 L106.19,368.93 L106.80,368.75 L107.40,368.56 L108.00,368.37 L108.60,368.17 L109.20,367.96 L109.81,367.74 L110.41,367.52 L111.01,367.29 L111.61,367.05 L112.21,366.81 L112.82,366.55 L113.42,366.29 L114.02,366.01 L114.62,365.73 L115.22,365.43 L115.83,365.12 L116.43,364.80 L117.03,364.47 L117.63,364.12 L118.23,363.76 L118.84,363.38 L119.44,362.98 L120.04,362.57 L120.64,362.14 L121.24,361.69 L121.85,361.22 L122.45,360.73 L123.05,360.22 L123.65,359.69 L124.25,359.13 L124.86,358.55 L125.46,357.94 L126.06,357.31 L126.66,356.65 L127.26,355.97 L127.87,355.26 L128.47,354.52 L129.07,353.75 L129.67,352.95 L130.27,352.13 L130.88,351.28 L131.48,350.40 L132.08,349.50 L132.68,348.57 L133.28,347.63 L133.89,346.66 L134.49,345.67 L135.09,344.66 L135.69,343.64 L136.29,342.61 L136.90,341.57 L137.50,340.53 L138.10,339.48 L138.70,338.43 L139.30,337.38 L139.91,336.35 L140.51,335.32 L141.11,334.30 L141.71,333.29 L142.31,332.31 L142.92,331.34 L143.52,330.39 L144.12,329.47 L144.72,328.57 L145.32,327.70 L145.93,326.85 L146.53,326.03 L147.13,325.24 L147.73,324.47 L148.33,323.74 L148.94,323.03 L149.54,322.35 L150.14,321.69 L150.74,321.07 L151.34,320.46 L151.95,319.89 L152.55,319.34 L153.15,318.81 L153.75,318.31 L154.35,317.82 L154.96,317.36 L155.56,316.92 L156.16,316.50 L156.76,316.09 L157.36,315.70 L157.97,315.33 L158.57,314.98 L159.17,314.64 L159.77,314.31 L160.37,314.00 L160.98,313.70 L161.58,313.42 L162.18,313.14 L162.78,312.88 L163.38,312.62 L163.99,312.38 L164.59,312.14 L165.19,311.92 L165.79,311.70 L166.39,311.49 L167.00,311.29 L167.60,311.09 L168.20,310.91 L168.80,310.72 L169.40,310.55 L170.01,310.38 L170.61,310.22 L171.21,310.06 L171.81,309.90 L172.41,309.76 L173.02,309.61 L173.62,309.47 L174.22,309.34 L174.82,309.21 L175.42,309.08 L176.03,308.95 L176.63,308.83 L177.23,308.72 L177.83,308.60 L178.43,308.49 L179.04,308.39 L179.64,308.28 L180.24,308.18 L180.84,308.08 L181.44,307.98 L182.05,307.89 L182.65,307.80 L183.25,307.71 L183.85,307.62 L184.45,307.53 L185.06,307.45 L185.66,307.37 L186.26,307.29 L186.86,307.21 L187.46,307.14 L188.07,307.06 L188.67,306.99 L189.27,306.92 L189.87,306.85 L190.47,306.78 L191.08,306.71 L191.68,306.65 L192.28,306.58 L192.88,306.52 L193.48,306.46 L194.09,306.40 L194.69,306.34 L195.29,306.28 L195.89,306.23 L196.49,306.17 L197.10,306.12 L197.70,306.06 L198.30,306.01" stroke="#ff0000" stroke-width="0.8"/>
<path d="M77.90,374.52 L78.50,374.52 L79.10,374.52 L79.71,374.47 L80.31,374.38 L80.91,374.28 L81.51,374.19 L82.11,374.09 L82.72,374.00 L83.32,373.90 L83.92,373.81 L84.52,373.71 L85.12,373.62 L85.73,373.52 L86.33,373.42 L86.93,373.33 L87.53,373.23 L88.13,373.13 L88.74,373.03 L89.34,372.93 L89.94,372.83 L90.54,372.72 L91.14,372.62 L91.75,372.51 L92.35,372.41 L92.95,372.30 L93.55,372.19 L94.15,372.08 L94.76,371.97 L95.36,371.85 L95.96,371.74 L96.56,371.62 L97.16,371.50 L97.77,371.38 L98.37,371.25 L98.97,371.13 L99.57,371.00 L100.17,370.86 L100.78,370.73 L101.38,370.59 L101.98,370.45 L102.58,370.31 L103.18,370.16 L103.79,370.01 L104.39,369.86 L104.99,369.70 L105.59,369.54 L106.19,369.37 L106.80,369.20 L107.40,369.02 L108.00,368.84 L108.60,368.66 L109.20,368.46 L109.81,368.27 L110.41,368.06 L111.01,367.85 L111.61,367.63 L112.21,367.41 L112.82,367.17 L113.42,366.93 L114.02,366.68 L114.62,366.42 L115.22,366.15 L115.83,365.87 L116.43,365.58 L117.03,365.28 L117.63,364.96 L118.23,364.63 L118.84,364.29 L119.44,363.94 L120.04,363.57 L120.64,363.18 L121.24,362.78 L121.85,362.36 L122.45,361.92 L123.05,361.46 L123.65,360.98 L124.25,360.48 L124.86,359.96 L125.46,359.41 L126.06,358.84 L126.66,358.25 L127.26,357.63 L127.87,356.98 L128.47,356.31 L129.07,355.61 L129.67,354.89 L130.27,354.13 L130.88,353.35 L131.48,352.54 L132.08,351.70 L132.68,350.84 L133.28,349.95 L133.89,349.04 L134.49,348.10 L135.09,347.14 L135.69,346.16 L136.29,345.17 L136.90,344.15 L137.50,343.13 L138.10,342.09 L138.70,341.05 L139.30,340.00 L139.91,338.95 L140.51,337.91 L141.11,336.87 L141.71,335.83 L142.31,334.81 L142.92,333.80 L143.52,332.80 L144.12,331.82 L144.72,330.87 L145.32,329.93 L145.93,329.02 L146.53,328.13 L147.13,327.27 L147.73,326.44 L148.33,325.63 L148.94,324.85 L149.54,324.10 L150.14,323.38 L150.74,322.69 L151.34,322.02 L151.95,321.38 L152.55,320.77 L153.15,320.18 L153.75,319.61 L154.35,319.07 L154.96,318.56 L155.56,318.06 L156.16,317.59 L156.76,317.14 L157.36,316.71 L157.97,316.29 L158.57,315.90 L159.17,315.52 L159.77,315.16 L160.37,314.81 L160.98,314.48 L161.58,314.16 L162.18,313.85 L162.78,313.56 L163.38,313.28 L163.99,313.01 L164.59,312.75 L165.19,312.50 L165.79,312.26 L166.39,312.03 L167.00,311.81 L167.60,311.60 L168.20,311.39 L168.80,311.19 L169.40,311.00 L170.01,310.82 L170.61,310.64 L171.21,310.46 L171.81,310.30 L172.41,310.14 L173.02,309.98 L173.62,309.83 L174.22,309.68 L174.82,309.54 L175.42,309.40 L176.03,309.27 L176.63,309.14 L177.23,309.02 L177.83,308.89 L178.43,308.78 L179.04,308.66 L179.64,308.55 L180.24,308.44 L180.84,308.33 L181.44,308.23 L182.05,308.13 L182.65,308.03 L183.25,307.94 L183.85,307.84 L184.45,307.75 L185.06,307.66 L185.66,307.58 L186.26,307.49 L186.86,307.41 L187.46,307.33 L188.07,307.25 L188.67,307.17 L189.27,307.10 L189.87,307.03 L190.47,306.95 L191.08,306.88 L191.68,306.81 L192.28,306.75 L192.88,306.68 L193.48,306.62 L194.09,306.55 L194.69,306.49 L195.29,306.43 L195.89,306.37 L196.49,306.31 L197.10,306.25 L197.70,306.20 L198.30,306.14" stroke="#0000ff" stroke-width="2.6" stroke-dasharray="6.1 5.2"/>
</g>
<path d="M138.10,382.00v-6.6M138.10,292.20v6.6M108.00,382.00v-3.5M108.00,292.20v3.5M168.20,382.00v-3.5M168.20,292.20v3.5M77.90,374.52h6.6M198.30,374.52h-6.6M77.90,337.10h6.6M198.30,337.10h-6.6M77.90,299.68h6.6M198.30,299.68h-6.6M77.90,355.81h3.5M198.30,355.81h-3.5M77.90,318.39h3.5M198.30,318.39h-3.5" stroke="#000" stroke-width="0.8" fill="none"/>
<rect x="77.90" y="292.20" width="120.4" height="89.8" fill="none" stroke="#000" stroke-width="0.8"/>
<text x="77.9" y="396.9" font-size="11.3" text-anchor="middle">0</text>
<text x="138.1" y="396.9" font-size="11.3" text-anchor="middle">10</text>
<text x="198.3" y="396.9" font-size="11.3" text-anchor="middle">20</text>
<text x="204.8" y="378.3" font-size="11.3">0</text>
<text x="204.8" y="340.9" font-size="11.3">0.5</text>
<text x="204.8" y="303.5" font-size="11.3">1</text>
<text x="85.4" y="310.4" font-size="14.3">I<tspan font-size="9.8" dy="2.8">L</tspan><tspan dy="-2.8"> / I</tspan><tspan font-size="9.8" dy="2.8">0</tspan></text>
<text x="138.1" y="415.6" font-size="14" text-anchor="middle">|e|V<tspan font-size="9.8" dy="2.8">sd</tspan><tspan dy="-2.8"> / Γ</tspan><tspan font-size="9.8" dy="2.8">0</tspan></text>
<clipPath id="c5"><rect x="69.5" y="524.4" width="320.1" height="240.0"/></clipPath>
<g clip-path="url(#c5)" fill="none">
<path d="M69.50,744.40 L71.10,744.40 L72.70,744.40 L74.30,744.40 L75.90,744.40 L77.50,744.40 L79.10,744.40 L80.70,744.40 L82.30,744.40 L83.90,744.40 L85.50,744.40 L87.11,744.40 L88.71,744.40 L90.31,744.40 L91.91,744.40 L93.51,744.40 L95.11,744.40 L96.71,744.40 L98.31,744.40 L99.91,744.40 L101.51,744.40 L103.11,744.40 L104.71,744.40 L106.31,744.40 L107.91,744.40 L109.51,744.40 L111.11,744.40 L112.71,744.40 L114.31,744.40 L115.91,744.40 L117.52,744.40 L119.12,744.40 L120.72,744.40 L122.32,744.40 L123.92,744.40 L125.52,744.40 L127.12,744.40 L128.72,744.40 L130.32,744.40 L131.92,744.40 L133.52,744.40 L135.12,744.40 L136.72,744.40 L138.32,744.40 L139.92,744.39 L141.52,744.39 L143.12,744.39 L144.72,744.39 L146.32,744.39 L147.92,744.39 L149.53,744.38 L151.13,744.38 L152.73,744.37 L154.33,744.37 L155.93,744.36 L157.53,744.35 L159.13,744.34 L160.73,744.33 L162.33,744.31 L163.93,744.29 L165.53,744.27 L167.13,744.24 L168.73,744.20 L170.33,744.16 L171.93,744.10 L173.53,744.04 L175.13,743.96 L176.73,743.86 L178.33,743.74 L179.93,743.59 L181.54,743.41 L183.14,743.19 L184.74,742.93 L186.34,742.61 L187.94,742.21 L189.54,741.73 L191.14,741.19 L192.74,740.61 L194.34,739.94 L195.94,739.14 L197.54,738.17 L199.14,737.07 L200.74,736.00 L202.34,734.82 L203.94,733.35 L205.54,731.50 L207.14,729.44 L208.74,726.93 L210.34,723.72 L211.94,719.98 L213.55,715.38 L215.15,709.48 L216.75,702.44 L218.35,694.08 L219.95,683.46 L221.55,670.80 L223.15,658.21 L224.75,646.95 L226.35,636.29 L227.95,625.82 L229.55,615.63 L231.15,607.00 L232.75,599.17 L234.35,591.10 L235.95,584.51 L237.55,578.48 L239.15,572.20 L240.75,567.26 L242.35,563.31 L243.95,560.25 L245.56,557.76 L247.16,555.75 L248.76,554.19 L250.36,553.00 L251.96,551.99 L253.56,551.09 L255.16,550.28 L256.76,549.56 L258.36,548.93 L259.96,548.36 L261.56,547.81 L263.16,547.28 L264.76,546.79 L266.36,546.35 L267.96,545.94 L269.56,545.56 L271.16,545.24 L272.76,544.99 L274.36,544.83 L275.96,544.75 L277.57,544.70 L279.17,544.64 L280.77,544.60 L282.37,544.55 L283.97,544.51 L285.57,544.48 L287.17,544.45 L288.77,544.43 L290.37,544.41 L291.97,544.40 L293.57,544.40 L295.17,544.40 L296.77,544.40 L298.37,544.40 L299.97,544.40 L301.57,544.40 L303.17,544.40 L304.77,544.40 L306.37,544.40 L307.97,544.40 L309.58,544.40 L311.18,544.40 L312.78,544.40 L314.38,544.40 L315.98,544.40 L317.58,544.40 L319.18,544.40 L320.78,544.40 L322.38,544.40 L323.98,544.40 L325.58,544.40 L327.18,544.40 L328.78,544.40 L330.38,544.40 L331.98,544.40 L333.58,544.40 L335.18,544.40 L336.78,544.40 L338.38,544.40 L339.98,544.40 L341.59,544.40 L343.19,544.40 L344.79,544.40 L346.39,544.40 L347.99,544.40 L349.59,544.40 L351.19,544.40 L352.79,544.40 L354.39,544.40 L355.99,544.40 L357.59,544.40 L359.19,544.40 L360.79,544.40 L362.39,544.40 L363.99,544.40 L365.59,544.40 L367.19,544.40 L368.79,544.40 L370.39,544.40 L371.99,544.40 L373.60,544.40 L375.20,544.40 L376.80,544.40 L378.40,544.40 L380.00,544.40 L381.60,544.40 L383.20,544.40 L384.80,544.40 L386.40,544.40 L388.00,544.40 L389.60,544.40" stroke="#000" stroke-width="1.25" stroke-dasharray="1.25 2.25"/>
<path d="M69.50,741.89 L71.10,741.86 L72.70,741.77 L74.30,741.61 L75.90,741.40 L77.50,741.13 L79.10,740.82 L80.70,740.47 L82.30,740.09 L83.90,739.69 L85.50,739.26 L87.11,738.81 L88.71,738.34 L90.31,737.87 L91.91,737.38 L93.51,736.88 L95.11,736.38 L96.71,735.86 L98.31,735.34 L99.91,734.82 L101.51,734.29 L103.11,733.75 L104.71,733.20 L106.31,732.65 L107.91,732.09 L109.51,731.52 L111.11,730.94 L112.71,730.36 L114.31,729.76 L115.91,729.16 L117.52,728.55 L119.12,727.93 L120.72,727.29 L122.32,726.65 L123.92,725.99 L125.52,725.32 L127.12,724.64 L128.72,723.95 L130.32,723.24 L131.92,722.52 L133.52,721.78 L135.12,721.02 L136.72,720.25 L138.32,719.46 L139.92,718.65 L141.52,717.82 L143.12,716.97 L144.72,716.09 L146.32,715.20 L147.92,714.28 L149.53,713.34 L151.13,712.37 L152.73,711.37 L154.33,710.34 L155.93,709.28 L157.53,708.20 L159.13,707.08 L160.73,705.92 L162.33,704.73 L163.93,703.50 L165.53,702.23 L167.13,700.93 L168.73,699.58 L170.33,698.18 L171.93,696.75 L173.53,695.26 L175.13,693.73 L176.73,692.15 L178.33,690.51 L179.93,688.83 L181.54,687.09 L183.14,685.31 L184.74,683.46 L186.34,681.57 L187.94,679.63 L189.54,677.63 L191.14,675.59 L192.74,673.51 L194.34,671.38 L195.94,669.22 L197.54,667.02 L199.14,664.81 L200.74,662.57 L202.34,660.33 L203.94,658.09 L205.54,655.86 L207.14,653.66 L208.74,651.49 L210.34,649.38 L211.94,647.26 L213.55,645.16 L215.15,643.16 L216.75,641.31 L218.35,639.69 L219.95,638.38 L221.55,637.30 L223.15,636.36 L224.75,635.46 L226.35,634.54 L227.95,633.70 L229.55,633.00 L231.15,632.43 L232.75,631.98 L234.35,631.63 L235.95,631.37 L237.55,631.19 L239.15,631.06 L240.75,630.84 L242.35,630.48 L243.95,630.02 L245.56,629.49 L247.16,628.92 L248.76,628.36 L250.36,627.82 L251.96,627.37 L253.56,627.03 L255.16,626.72 L256.76,626.34 L258.36,625.90 L259.96,625.40 L261.56,624.83 L263.16,624.21 L264.76,623.57 L266.36,622.99 L267.96,622.43 L269.56,621.88 L271.16,621.30 L272.76,620.66 L274.36,619.93 L275.96,619.10 L277.57,618.25 L279.17,617.38 L280.77,616.50 L282.37,615.61 L283.97,614.71 L285.57,613.81 L287.17,612.91 L288.77,612.00 L290.37,611.10 L291.97,610.19 L293.57,609.29 L295.17,608.39 L296.77,607.49 L298.37,606.60 L299.97,605.73 L301.57,604.87 L303.17,604.03 L304.77,603.20 L306.37,602.40 L307.97,601.61 L309.58,600.83 L311.18,600.08 L312.78,599.34 L314.38,598.62 L315.98,597.91 L317.58,597.22 L319.18,596.55 L320.78,595.89 L322.38,595.25 L323.98,594.62 L325.58,594.00 L327.18,593.40 L328.78,592.82 L330.38,592.24 L331.98,591.69 L333.58,591.14 L335.18,590.61 L336.78,590.08 L338.38,589.57 L339.98,589.07 L341.59,588.59 L343.19,588.11 L344.79,587.64 L346.39,587.19 L347.99,586.74 L349.59,586.30 L351.19,585.88 L352.79,585.46 L354.39,585.05 L355.99,584.65 L357.59,584.25 L359.19,583.87 L360.79,583.49 L362.39,583.12 L363.99,582.76 L365.59,582.40 L367.19,582.06 L368.79,581.72 L370.39,581.38 L371.99,581.05 L373.60,580.73 L375.20,580.41 L376.80,580.10 L378.40,579.80 L380.00,579.50 L381.60,579.20 L383.20,578.92 L384.80,578.63 L386.40,578.35 L388.00,578.08 L389.60,577.81" stroke="#ff0000" stroke-width="0.8"/>
<path d="M69.50,741.89 L71.10,741.93 L72.70,741.91 L74.30,741.83 L75.90,741.69 L77.50,741.49 L79.10,741.26 L80.70,740.98 L82.30,740.68 L83.90,740.34 L85.50,739.99 L87.11,739.61 L88.71,739.23 L90.31,738.82 L91.91,738.41 L93.51,737.99 L95.11,737.56 L96.71,737.12 L98.31,736.68 L99.91,736.23 L101.51,735.78 L103.11,735.31 L104.71,734.84 L106.31,734.37 L107.91,733.89 L109.51,733.39 L111.11,732.90 L112.71,732.39 L114.31,731.87 L115.91,731.35 L117.52,730.81 L119.12,730.27 L120.72,729.72 L122.32,729.15 L123.92,728.58 L125.52,727.99 L127.12,727.39 L128.72,726.78 L130.32,726.15 L131.92,725.52 L133.52,724.87 L135.12,724.20 L136.72,723.53 L138.32,722.83 L139.92,722.13 L141.52,721.40 L143.12,720.65 L144.72,719.88 L146.32,719.08 L147.92,718.26 L149.53,717.41 L151.13,716.53 L152.73,715.62 L154.33,714.67 L155.93,713.68 L157.53,712.66 L159.13,711.59 L160.73,710.48 L162.33,709.34 L163.93,708.15 L165.53,706.92 L167.13,705.66 L168.73,704.36 L170.33,703.03 L171.93,701.66 L173.53,700.26 L175.13,698.84 L176.73,697.41 L178.33,695.97 L179.93,694.51 L181.54,693.02 L183.14,691.52 L184.74,690.07 L186.34,688.64 L187.94,687.21 L189.54,685.76 L191.14,684.26 L192.74,682.69 L194.34,681.02 L195.94,679.31 L197.54,677.57 L199.14,675.75 L200.74,673.78 L202.34,671.71 L203.94,669.57 L205.54,667.37 L207.14,665.19 L208.74,663.10 L210.34,661.17 L211.94,659.32 L213.55,657.52 L215.15,655.77 L216.75,654.19 L218.35,653.16 L219.95,652.28 L221.55,651.24 L223.15,649.87 L224.75,648.36 L226.35,646.72 L227.95,645.58 L229.55,644.67 L231.15,643.86 L232.75,643.09 L234.35,642.24 L235.95,641.33 L237.55,640.41 L239.15,639.52 L240.75,638.69 L242.35,637.94 L243.95,637.14 L245.56,636.25 L247.16,635.31 L248.76,634.36 L250.36,633.43 L251.96,632.56 L253.56,631.81 L255.16,631.13 L256.76,630.44 L258.36,629.74 L259.96,629.02 L261.56,628.27 L263.16,627.50 L264.76,626.75 L266.36,626.06 L267.96,625.34 L269.56,624.57 L271.16,623.84 L272.76,623.20 L274.36,622.54 L275.96,621.80 L277.57,621.04 L279.17,620.28 L280.77,619.50 L282.37,618.72 L283.97,617.92 L285.57,617.10 L287.17,616.28 L288.77,615.44 L290.37,614.61 L291.97,613.77 L293.57,612.94 L295.17,612.11 L296.77,611.29 L298.37,610.46 L299.97,609.62 L301.57,608.78 L303.17,607.93 L304.77,607.08 L306.37,606.23 L307.97,605.39 L309.58,604.56 L311.18,603.71 L312.78,602.85 L314.38,601.99 L315.98,601.15 L317.58,600.32 L319.18,599.50 L320.78,598.72 L322.38,597.95 L323.98,597.19 L325.58,596.45 L327.18,595.73 L328.78,595.03 L330.38,594.34 L331.98,593.68 L333.58,593.03 L335.18,592.39 L336.78,591.77 L338.38,591.16 L339.98,590.57 L341.59,590.00 L343.19,589.44 L344.79,588.90 L346.39,588.37 L347.99,587.85 L349.59,587.34 L351.19,586.85 L352.79,586.37 L354.39,585.90 L355.99,585.45 L357.59,585.00 L359.19,584.57 L360.79,584.14 L362.39,583.73 L363.99,583.32 L365.59,582.92 L367.19,582.53 L368.79,582.15 L370.39,581.77 L371.99,581.40 L373.60,581.04 L375.20,580.69 L376.80,580.34 L378.40,580.00 L380.00,579.67 L381.60,579.34 L383.20,579.02 L384.80,578.71 L386.40,578.40 L388.00,578.10 L389.60,577.81" stroke="#0000ff" stroke-width="2.6" stroke-dasharray="6.1 5.2"/>
</g>
<path d="M229.55,764.40v-3.8M229.55,524.40v3.8M149.53,764.40v-1.9M149.53,524.40v1.9M309.58,764.40v-1.9M309.58,524.40v1.9M69.50,744.40h3.8M389.60,744.40h-3.8M69.50,644.40h3.8M389.60,644.40h-3.8M69.50,544.40h3.8M389.60,544.40h-3.8M69.50,694.40h1.9M389.60,694.40h-1.9M69.50,594.40h1.9M389.60,594.40h-1.9" stroke="#000" stroke-width="0.8" fill="none"/>
<rect x="69.5" y="524.4" width="320.1" height="240.0" fill="none" stroke="#000" stroke-width="0.8"/>
<text x="59.0" y="750.7" font-size="18" text-anchor="end">0</text>
<text x="59.0" y="650.7" font-size="18" text-anchor="end">0.5</text>
<text x="59.0" y="550.7" font-size="18" text-anchor="end">1</text>
<text transform="translate(19.7,644.4) rotate(-90)" font-size="22.6" text-anchor="middle">S<tspan font-size="15.8" dy="5">LL</tspan><tspan dy="-5">(</tspan><tspan font-style="italic" dy="0.8">ω</tspan><tspan dy="1.7">=</tspan><tspan dy="-2.5">0) / S</tspan><tspan font-size="15.8" dy="5">0</tspan></text>
<text x="342.3" y="569.6" font-size="28">(c)</text>
<rect x="316.30" y="724.10" width="73.30" height="40.3" fill="#fff" stroke="#000" stroke-width="0.8"/>
<text x="377.9" y="751.6" font-size="22.6" text-anchor="end">U=Γ<tspan font-size="15.8" dy="4.5">0</tspan><tspan dy="-4.5"></tspan></text>
<rect x="77.90" y="532.20" width="120.4" height="89.8" fill="#fff" stroke="none"/>
<clipPath id="c6"><rect x="77.90" y="532.20" width="120.4" height="89.8"/></clipPath>
<g clip-path="url(#c6)" fill="none">
<path d="M77.90,614.52 L78.50,614.52 L79.10,614.52 L79.71,614.52 L80.31,614.52 L80.91,614.52 L81.51,614.52 L82.11,614.52 L82.72,614.52 L83.32,614.52 L83.92,614.52 L84.52,614.52 L85.12,614.52 L85.73,614.52 L86.33,614.52 L86.93,614.52 L87.53,614.52 L88.13,614.52 L88.74,614.52 L89.34,614.52 L89.94,614.52 L90.54,614.52 L91.14,614.52 L91.75,614.52 L92.35,614.52 L92.95,614.52 L93.55,614.52 L94.15,614.52 L94.76,614.52 L95.36,614.52 L95.96,614.52 L96.56,614.52 L97.16,614.52 L97.77,614.52 L98.37,614.52 L98.97,614.52 L99.57,614.52 L100.17,614.52 L100.78,614.52 L101.38,614.52 L101.98,614.52 L102.58,614.52 L103.18,614.52 L103.79,614.52 L104.39,614.52 L104.99,614.52 L105.59,614.52 L106.19,614.51 L106.80,614.51 L107.40,614.51 L108.00,614.51 L108.60,614.51 L109.20,614.51 L109.81,614.51 L110.41,614.51 L111.01,614.51 L111.61,614.51 L112.21,614.50 L112.82,614.50 L113.42,614.50 L114.02,614.49 L114.62,614.49 L115.22,614.48 L115.83,614.47 L116.43,614.46 L117.03,614.45 L117.63,614.43 L118.23,614.42 L118.84,614.39 L119.44,614.37 L120.04,614.33 L120.64,614.29 L121.24,614.24 L121.85,614.18 L122.45,614.11 L123.05,614.02 L123.65,613.91 L124.25,613.77 L124.86,613.61 L125.46,613.41 L126.06,613.17 L126.66,612.88 L127.26,612.53 L127.87,612.10 L128.47,611.59 L129.07,610.97 L129.67,610.23 L130.27,609.36 L130.88,608.33 L131.48,607.11 L132.08,605.69 L132.68,604.04 L133.28,602.13 L133.89,599.95 L134.49,597.50 L135.09,594.77 L135.69,591.77 L136.29,588.55 L136.90,585.13 L137.50,581.58 L138.10,578.22 L138.70,575.29 L139.30,572.72 L139.91,570.43 L140.51,568.31 L141.11,566.28 L141.71,564.21 L142.31,561.97 L142.92,559.69 L143.52,557.59 L144.12,555.68 L144.72,553.96 L145.32,552.41 L145.93,551.03 L146.53,549.82 L147.13,548.77 L147.73,547.82 L148.33,546.92 L148.94,546.06 L149.54,545.25 L150.14,544.50 L150.74,543.82 L151.34,543.20 L151.95,542.67 L152.55,542.23 L153.15,541.90 L153.75,541.60 L154.35,541.33 L154.96,541.09 L155.56,540.88 L156.16,540.68 L156.76,540.51 L157.36,540.37 L157.97,540.25 L158.57,540.16 L159.17,540.09 L159.77,540.02 L160.37,539.96 L160.98,539.90 L161.58,539.85 L162.18,539.81 L162.78,539.77 L163.38,539.74 L163.99,539.71 L164.59,539.70 L165.19,539.69 L165.79,539.69 L166.39,539.69 L167.00,539.69 L167.60,539.69 L168.20,539.69 L168.80,539.69 L169.40,539.69 L170.01,539.69 L170.61,539.68 L171.21,539.68 L171.81,539.68 L172.41,539.68 L173.02,539.68 L173.62,539.68 L174.22,539.68 L174.82,539.68 L175.42,539.68 L176.03,539.68 L176.63,539.68 L177.23,539.68 L177.83,539.68 L178.43,539.68 L179.04,539.68 L179.64,539.68 L180.24,539.68 L180.84,539.68 L181.44,539.68 L182.05,539.68 L182.65,539.68 L183.25,539.68 L183.85,539.68 L184.45,539.68 L185.06,539.68 L185.66,539.68 L186.26,539.68 L186.86,539.68 L187.46,539.68 L188.07,539.68 L188.67,539.68 L189.27,539.68 L189.87,539.68 L190.47,539.68 L191.08,539.68 L191.68,539.68 L192.28,539.68 L192.88,539.68 L193.48,539.68 L194.09,539.68 L194.69,539.68 L195.29,539.68 L195.89,539.68 L196.49,539.68 L197.10,539.68 L197.70,539.68 L198.30,539.68" stroke="#000" stroke-width="1.25" stroke-dasharray="1.25 2.25"/>
<path d="M77.90,614.52 L78.50,614.42 L79.10,614.33 L79.71,614.24 L80.31,614.14 L80.91,614.05 L81.51,613.95 L82.11,613.86 L82.72,613.76 L83.32,613.67 L83.92,613.57 L84.52,613.47 L85.12,613.38 L85.73,613.28 L86.33,613.18 L86.93,613.08 L87.53,612.98 L88.13,612.88 L88.74,612.77 L89.34,612.67 L89.94,612.57 L90.54,612.46 L91.14,612.35 L91.75,612.24 L92.35,612.13 L92.95,612.02 L93.55,611.91 L94.15,611.79 L94.76,611.68 L95.36,611.56 L95.96,611.44 L96.56,611.31 L97.16,611.19 L97.77,611.06 L98.37,610.93 L98.97,610.80 L99.57,610.66 L100.17,610.52 L100.78,610.38 L101.38,610.24 L101.98,610.09 L102.58,609.94 L103.18,609.78 L103.79,609.62 L104.39,609.46 L104.99,609.29 L105.59,609.11 L106.19,608.93 L106.80,608.75 L107.40,608.56 L108.00,608.37 L108.60,608.17 L109.20,607.96 L109.81,607.74 L110.41,607.52 L111.01,607.29 L111.61,607.05 L112.21,606.81 L112.82,606.55 L113.42,606.29 L114.02,606.01 L114.62,605.73 L115.22,605.43 L115.83,605.12 L116.43,604.80 L117.03,604.47 L117.63,604.12 L118.23,603.76 L118.84,603.38 L119.44,602.98 L120.04,602.57 L120.64,602.14 L121.24,601.69 L121.85,601.22 L122.45,600.73 L123.05,600.22 L123.65,599.69 L124.25,599.13 L124.86,598.55 L125.46,597.94 L126.06,597.31 L126.66,596.65 L127.26,595.97 L127.87,595.26 L128.47,594.52 L129.07,593.75 L129.67,592.95 L130.27,592.13 L130.88,591.28 L131.48,590.40 L132.08,589.50 L132.68,588.57 L133.28,587.63 L133.89,586.66 L134.49,585.67 L135.09,584.66 L135.69,583.64 L136.29,582.61 L136.90,581.57 L137.50,580.53 L138.10,579.48 L138.70,578.43 L139.30,577.38 L139.91,576.35 L140.51,575.32 L141.11,574.30 L141.71,573.29 L142.31,572.31 L142.92,571.34 L143.52,570.39 L144.12,569.47 L144.72,568.57 L145.32,567.70 L145.93,566.85 L146.53,566.03 L147.13,565.24 L147.73,564.47 L148.33,563.74 L148.94,563.03 L149.54,562.35 L150.14,561.69 L150.74,561.07 L151.34,560.46 L151.95,559.89 L152.55,559.34 L153.15,558.81 L153.75,558.31 L154.35,557.82 L154.96,557.36 L155.56,556.92 L156.16,556.50 L156.76,556.09 L157.36,555.70 L157.97,555.33 L158.57,554.98 L159.17,554.64 L159.77,554.31 L160.37,554.00 L160.98,553.70 L161.58,553.42 L162.18,553.14 L162.78,552.88 L163.38,552.62 L163.99,552.38 L164.59,552.14 L165.19,551.92 L165.79,551.70 L166.39,551.49 L167.00,551.29 L167.60,551.09 L168.20,550.91 L168.80,550.72 L169.40,550.55 L170.01,550.38 L170.61,550.22 L171.21,550.06 L171.81,549.90 L172.41,549.76 L173.02,549.61 L173.62,549.47 L174.22,549.34 L174.82,549.21 L175.42,549.08 L176.03,548.95 L176.63,548.83 L177.23,548.72 L177.83,548.60 L178.43,548.49 L179.04,548.39 L179.64,548.28 L180.24,548.18 L180.84,548.08 L181.44,547.98 L182.05,547.89 L182.65,547.80 L183.25,547.71 L183.85,547.62 L184.45,547.53 L185.06,547.45 L185.66,547.37 L186.26,547.29 L186.86,547.21 L187.46,547.14 L188.07,547.06 L188.67,546.99 L189.27,546.92 L189.87,546.85 L190.47,546.78 L191.08,546.71 L191.68,546.65 L192.28,546.58 L192.88,546.52 L193.48,546.46 L194.09,546.40 L194.69,546.34 L195.29,546.28 L195.89,546.23 L196.49,546.17 L197.10,546.12 L197.70,546.06 L198.30,546.01" stroke="#ff0000" stroke-width="0.8"/>
<path d="M77.90,614.52 L78.50,614.52 L79.10,614.52 L79.71,614.52 L80.31,614.52 L80.91,614.52 L81.51,614.42 L82.11,614.33 L82.72,614.24 L83.32,614.14 L83.92,614.05 L84.52,613.95 L85.12,613.86 L85.73,613.76 L86.33,613.67 L86.93,613.57 L87.53,613.47 L88.13,613.38 L88.74,613.28 L89.34,613.18 L89.94,613.08 L90.54,612.98 L91.14,612.88 L91.75,612.77 L92.35,612.67 L92.95,612.57 L93.55,612.46 L94.15,612.35 L94.76,612.24 L95.36,612.13 L95.96,612.02 L96.56,611.91 L97.16,611.79 L97.77,611.68 L98.37,611.56 L98.97,611.44 L99.57,611.31 L100.17,611.19 L100.78,611.06 L101.38,610.93 L101.98,610.80 L102.58,610.66 L103.18,610.52 L103.79,610.38 L104.39,610.24 L104.99,610.09 L105.59,609.94 L106.19,609.78 L106.80,609.62 L107.40,609.46 L108.00,609.29 L108.60,609.11 L109.20,608.93 L109.81,608.75 L110.41,608.56 L111.01,608.37 L111.61,608.17 L112.21,607.96 L112.82,607.74 L113.42,607.52 L114.02,607.29 L114.62,607.05 L115.22,606.81 L115.83,606.55 L116.43,606.29 L117.03,606.01 L117.63,605.73 L118.23,605.43 L118.84,605.12 L119.44,604.80 L120.04,604.47 L120.64,604.12 L121.24,603.76 L121.85,603.38 L122.45,602.98 L123.05,602.57 L123.65,602.14 L124.25,601.69 L124.86,601.22 L125.46,600.73 L126.06,600.22 L126.66,599.69 L127.26,599.13 L127.87,598.55 L128.47,597.94 L129.07,597.31 L129.67,596.65 L130.27,595.97 L130.88,595.26 L131.48,594.52 L132.08,593.75 L132.68,592.95 L133.28,592.13 L133.89,591.28 L134.49,590.40 L135.09,589.50 L135.69,588.57 L136.29,587.63 L136.90,586.66 L137.50,585.67 L138.10,584.66 L138.70,583.64 L139.30,582.61 L139.91,581.57 L140.51,580.53 L141.11,579.48 L141.71,578.43 L142.31,577.38 L142.92,576.35 L143.52,575.32 L144.12,574.30 L144.72,573.29 L145.32,572.31 L145.93,571.34 L146.53,570.39 L147.13,569.47 L147.73,568.57 L148.33,567.70 L148.94,566.85 L149.54,566.03 L150.14,565.24 L150.74,564.47 L151.34,563.74 L151.95,563.03 L152.55,562.35 L153.15,561.69 L153.75,561.07 L154.35,560.46 L154.96,559.89 L155.56,559.34 L156.16,558.81 L156.76,558.31 L157.36,557.82 L157.97,557.36 L158.57,556.92 L159.17,556.50 L159.77,556.09 L160.37,555.70 L160.98,555.33 L161.58,554.98 L162.18,554.64 L162.78,554.31 L163.38,554.00 L163.99,553.70 L164.59,553.42 L165.19,553.14 L165.79,552.88 L166.39,552.62 L167.00,552.38 L167.60,552.14 L168.20,551.92 L168.80,551.70 L169.40,551.49 L170.01,551.29 L170.61,551.09 L171.21,550.91 L171.81,550.72 L172.41,550.55 L173.02,550.38 L173.62,550.22 L174.22,550.06 L174.82,549.90 L175.42,549.76 L176.03,549.61 L176.63,549.47 L177.23,549.34 L177.83,549.21 L178.43,549.08 L179.04,548.95 L179.64,548.83 L180.24,548.72 L180.84,548.60 L181.44,548.49 L182.05,548.39 L182.65,548.28 L183.25,548.18 L183.85,548.08 L184.45,547.98 L185.06,547.89 L185.66,547.80 L186.26,547.71 L186.86,547.62 L187.46,547.53 L188.07,547.45 L188.67,547.37 L189.27,547.29 L189.87,547.21 L190.47,547.14 L191.08,547.06 L191.68,546.99 L192.28,546.92 L192.88,546.85 L193.48,546.78 L194.09,546.71 L194.69,546.65 L195.29,546.58 L195.89,546.52 L196.49,546.46 L197.10,546.40 L197.70,546.34 L198.30,546.28" stroke="#0000ff" stroke-width="2.6" stroke-dasharray="6.1 5.2"/>
</g>
<path d="M138.10,622.00v-6.6M138.10,532.20v6.6M108.00,622.00v-3.5M108.00,532.20v3.5M168.20,622.00v-3.5M168.20,532.20v3.5M77.90,614.52h6.6M198.30,614.52h-6.6M77.90,577.10h6.6M198.30,577.10h-6.6M77.90,539.68h6.6M198.30,539.68h-6.6M77.90,595.81h3.5M198.30,595.81h-3.5M77.90,558.39h3.5M198.30,558.39h-3.5" stroke="#000" stroke-width="0.8" fill="none"/>
<rect x="77.90" y="532.20" width="120.4" height="89.8" fill="none" stroke="#000" stroke-width="0.8"/>
<text x="77.9" y="636.9" font-size="11.3" text-anchor="middle">0</text>
<text x="138.1" y="636.9" font-size="11.3" text-anchor="middle">10</text>
<text x="198.3" y="636.9" font-size="11.3" text-anchor="middle">20</text>
<text x="204.8" y="618.3" font-size="11.3">0</text>
<text x="204.8" y="580.9" font-size="11.3">0.5</text>
<text x="204.8" y="543.5" font-size="11.3">1</text>
<text x="85.4" y="550.4" font-size="14.3">I<tspan font-size="9.8" dy="2.8">L</tspan><tspan dy="-2.8"> / I</tspan><tspan font-size="9.8" dy="2.8">0</tspan></text>
<text x="138.1" y="655.6" font-size="14" text-anchor="middle">|e|V<tspan font-size="9.8" dy="2.8">sd</tspan><tspan dy="-2.8"> / Γ</tspan><tspan font-size="9.8" dy="2.8">0</tspan></text>
<clipPath id="c7"><rect x="498.3" y="44.4" width="320.1" height="240.0"/></clipPath>
<g clip-path="url(#c7)" fill="none">
<path d="M498.30,264.40 L499.90,264.40 L501.50,264.40 L503.10,264.40 L504.70,264.40 L506.30,264.40 L507.90,264.40 L509.50,264.40 L511.10,264.40 L512.70,264.40 L514.31,264.40 L515.91,264.40 L517.51,264.40 L519.11,264.40 L520.71,264.40 L522.31,264.40 L523.91,264.40 L525.51,264.40 L527.11,264.40 L528.71,264.40 L530.31,264.40 L531.91,264.40 L533.51,264.40 L535.11,264.40 L536.71,264.40 L538.31,264.40 L539.91,264.40 L541.51,264.40 L543.11,264.40 L544.71,264.40 L546.32,264.40 L547.92,264.40 L549.52,264.40 L551.12,264.40 L552.72,264.40 L554.32,264.40 L555.92,264.40 L557.52,264.40 L559.12,264.40 L560.72,264.40 L562.32,264.40 L563.92,264.40 L565.52,264.40 L567.12,264.40 L568.72,264.39 L570.32,264.39 L571.92,264.39 L573.52,264.39 L575.12,264.39 L576.72,264.39 L578.33,264.38 L579.93,264.38 L581.53,264.37 L583.13,264.37 L584.73,264.36 L586.33,264.35 L587.93,264.34 L589.53,264.33 L591.13,264.31 L592.73,264.29 L594.33,264.27 L595.93,264.24 L597.53,264.20 L599.13,264.16 L600.73,264.10 L602.33,264.04 L603.93,263.96 L605.53,263.86 L607.13,263.74 L608.73,263.59 L610.34,263.41 L611.94,263.18 L613.54,262.86 L615.14,262.47 L616.74,261.98 L618.34,261.39 L619.94,260.69 L621.54,259.85 L623.14,258.86 L624.74,257.69 L626.34,256.30 L627.94,254.67 L629.54,252.73 L631.14,250.39 L632.74,247.54 L634.34,243.93 L635.94,239.71 L637.54,235.10 L639.14,229.91 L640.74,223.89 L642.35,216.96 L643.95,209.34 L645.55,201.34 L647.15,192.63 L648.75,182.96 L650.35,172.65 L651.95,162.01 L653.55,151.43 L655.15,141.15 L656.75,131.35 L658.35,122.42 L659.95,114.23 L661.55,106.98 L663.15,100.41 L664.75,93.80 L666.35,87.61 L667.95,82.08 L669.55,77.16 L671.15,73.35 L672.75,70.62 L674.36,69.08 L675.96,68.00 L677.56,67.18 L679.16,66.51 L680.76,65.98 L682.36,65.56 L683.96,65.24 L685.56,64.95 L687.16,64.72 L688.76,64.54 L690.36,64.46 L691.96,64.44 L693.56,64.43 L695.16,64.42 L696.76,64.41 L698.36,64.41 L699.96,64.41 L701.56,64.40 L703.16,64.40 L704.76,64.40 L706.37,64.40 L707.97,64.40 L709.57,64.40 L711.17,64.40 L712.77,64.40 L714.37,64.40 L715.97,64.40 L717.57,64.40 L719.17,64.40 L720.77,64.40 L722.37,64.40 L723.97,64.40 L725.57,64.40 L727.17,64.40 L728.77,64.40 L730.37,64.40 L731.97,64.40 L733.57,64.40 L735.17,64.40 L736.77,64.40 L738.38,64.40 L739.98,64.40 L741.58,64.40 L743.18,64.40 L744.78,64.40 L746.38,64.40 L747.98,64.40 L749.58,64.40 L751.18,64.40 L752.78,64.40 L754.38,64.40 L755.98,64.40 L757.58,64.40 L759.18,64.40 L760.78,64.40 L762.38,64.40 L763.98,64.40 L765.58,64.40 L767.18,64.40 L768.78,64.40 L770.38,64.40 L771.99,64.40 L773.59,64.40 L775.19,64.40 L776.79,64.40 L778.39,64.40 L779.99,64.40 L781.59,64.40 L783.19,64.40 L784.79,64.40 L786.39,64.40 L787.99,64.40 L789.59,64.40 L791.19,64.40 L792.79,64.40 L794.39,64.40 L795.99,64.40 L797.59,64.40 L799.19,64.40 L800.79,64.40 L802.39,64.40 L804.00,64.40 L805.60,64.40 L807.20,64.40 L808.80,64.40 L810.40,64.40 L812.00,64.40 L813.60,64.40 L815.20,64.40 L816.80,64.40 L818.40,64.40" stroke="#000" stroke-width="1.25" stroke-dasharray="1.25 2.25"/>
<path d="M498.30,261.39 L499.90,261.36 L501.50,261.25 L503.10,261.06 L504.70,260.82 L506.30,260.51 L507.90,260.16 L509.50,259.76 L511.10,259.32 L512.70,258.85 L514.31,258.35 L515.91,257.84 L517.51,257.31 L519.11,256.76 L520.71,256.20 L522.31,255.63 L523.91,255.05 L525.51,254.47 L527.11,253.87 L528.71,253.28 L530.31,252.67 L531.91,252.06 L533.51,251.44 L535.11,250.81 L536.71,250.18 L538.31,249.54 L539.91,248.89 L541.51,248.24 L543.11,247.57 L544.71,246.90 L546.32,246.22 L547.92,245.53 L549.52,244.83 L551.12,244.12 L552.72,243.41 L554.32,242.68 L555.92,241.93 L557.52,241.18 L559.12,240.42 L560.72,239.64 L562.32,238.85 L563.92,238.04 L565.52,237.22 L567.12,236.39 L568.72,235.54 L570.32,234.67 L571.92,233.79 L573.52,232.89 L575.12,231.98 L576.72,231.04 L578.33,230.09 L579.93,229.12 L581.53,228.12 L583.13,227.11 L584.73,226.07 L586.33,225.01 L587.93,223.93 L589.53,222.83 L591.13,221.70 L592.73,220.54 L594.33,219.36 L595.93,218.16 L597.53,216.92 L599.13,215.66 L600.73,214.37 L602.33,213.05 L603.93,211.70 L605.53,210.32 L607.13,208.90 L608.73,207.46 L610.34,205.98 L611.94,204.47 L613.54,202.93 L615.14,201.35 L616.74,199.74 L618.34,198.10 L619.94,196.42 L621.54,194.72 L623.14,192.97 L624.74,191.20 L626.34,189.40 L627.94,187.57 L629.54,185.71 L631.14,183.84 L632.74,181.94 L634.34,180.04 L635.94,178.13 L637.54,176.22 L639.14,174.33 L640.74,172.46 L642.35,170.63 L643.95,168.82 L645.55,167.04 L647.15,165.31 L648.75,163.66 L650.35,162.10 L651.95,160.59 L653.55,159.15 L655.15,157.94 L656.75,157.13 L658.35,156.71 L659.95,156.55 L661.55,156.50 L663.15,156.41 L664.75,156.14 L666.35,155.81 L667.95,155.46 L669.55,155.10 L671.15,154.73 L672.75,154.36 L674.36,154.02 L675.96,153.70 L677.56,153.44 L679.16,153.23 L680.76,153.01 L682.36,152.76 L683.96,152.48 L685.56,152.15 L687.16,151.79 L688.76,151.38 L690.36,150.94 L691.96,150.46 L693.56,149.94 L695.16,149.40 L696.76,148.84 L698.36,148.28 L699.96,147.68 L701.56,147.04 L703.16,146.34 L704.76,145.60 L706.37,144.84 L707.97,144.07 L709.57,143.29 L711.17,142.50 L712.77,141.71 L714.37,140.91 L715.97,140.12 L717.57,139.32 L719.17,138.52 L720.77,137.73 L722.37,136.93 L723.97,136.15 L725.57,135.37 L727.17,134.59 L728.77,133.82 L730.37,133.06 L731.97,132.31 L733.57,131.56 L735.17,130.82 L736.77,130.10 L738.38,129.38 L739.98,128.67 L741.58,127.98 L743.18,127.29 L744.78,126.61 L746.38,125.95 L747.98,125.29 L749.58,124.65 L751.18,124.01 L752.78,123.39 L754.38,122.77 L755.98,122.17 L757.58,121.58 L759.18,120.99 L760.78,120.42 L762.38,119.86 L763.98,119.31 L765.58,118.76 L767.18,118.23 L768.78,117.71 L770.38,117.19 L771.99,116.68 L773.59,116.19 L775.19,115.70 L776.79,115.22 L778.39,114.75 L779.99,114.29 L781.59,113.83 L783.19,113.38 L784.79,112.94 L786.39,112.51 L787.99,112.09 L789.59,111.67 L791.19,111.26 L792.79,110.86 L794.39,110.46 L795.99,110.07 L797.59,109.69 L799.19,109.32 L800.79,108.94 L802.39,108.58 L804.00,108.22 L805.60,107.87 L807.20,107.52 L808.80,107.18 L810.40,106.85 L812.00,106.52 L813.60,106.19 L815.20,105.87 L816.80,105.56 L818.40,105.25" stroke="#ff0000" stroke-width="0.8"/>
<path d="M498.30,261.39 L499.90,261.36 L501.50,261.25 L503.10,261.06 L504.70,260.82 L506.30,260.51 L507.90,260.16 L509.50,259.76 L511.10,259.32 L512.70,258.85 L514.31,258.35 L515.91,257.84 L517.51,257.31 L519.11,256.76 L520.71,256.20 L522.31,255.63 L523.91,255.05 L525.51,254.47 L527.11,253.87 L528.71,253.28 L530.31,252.67 L531.91,252.06 L533.51,251.44 L535.11,250.81 L536.71,250.18 L538.31,249.54 L539.91,248.89 L541.51,248.24 L543.11,247.57 L544.71,246.90 L546.32,246.22 L547.92,245.53 L549.52,244.83 L551.12,244.12 L552.72,243.41 L554.32,242.68 L555.92,241.93 L557.52,241.18 L559.12,240.42 L560.72,239.64 L562.32,238.85 L563.92,238.04 L565.52,237.22 L567.12,236.39 L568.72,235.54 L570.32,234.67 L571.92,233.79 L573.52,232.89 L575.12,231.98 L576.72,231.04 L578.33,230.09 L579.93,229.12 L581.53,228.12 L583.13,227.11 L584.73,226.07 L586.33,225.01 L587.93,223.93 L589.53,222.83 L591.13,221.70 L592.73,220.54 L594.33,219.36 L595.93,218.16 L597.53,216.92 L599.13,215.66 L600.73,214.37 L602.33,213.05 L603.93,211.70 L605.53,210.32 L607.13,208.90 L608.73,207.46 L610.34,205.98 L611.94,204.47 L613.54,202.93 L615.14,201.35 L616.74,199.74 L618.34,198.10 L619.94,196.42 L621.54,194.72 L623.14,192.97 L624.74,191.20 L626.34,189.40 L627.94,187.57 L629.54,185.71 L631.14,183.84 L632.74,181.94 L634.34,180.04 L635.94,178.13 L637.54,176.22 L639.14,174.33 L640.74,172.46 L642.35,170.63 L643.95,168.82 L645.55,167.04 L647.15,165.31 L648.75,163.66 L650.35,162.10 L651.95,160.59 L653.55,159.15 L655.15,157.94 L656.75,157.13 L658.35,156.71 L659.95,156.55 L661.55,156.50 L663.15,156.41 L664.75,156.14 L666.35,155.81 L667.95,155.46 L669.55,155.10 L671.15,154.73 L672.75,154.36 L674.36,154.02 L675.96,153.70 L677.56,153.44 L679.16,153.23 L680.76,153.01 L682.36,152.76 L683.96,152.48 L685.56,152.15 L687.16,151.79 L688.76,151.38 L690.36,150.94 L691.96,150.46 L693.56,149.94 L695.16,149.40 L696.76,148.84 L698.36,148.28 L699.96,147.68 L701.56,147.04 L703.16,146.34 L704.76,145.60 L706.37,144.84 L707.97,144.07 L709.57,143.29 L711.17,142.50 L712.77,141.71 L714.37,140.91 L715.97,140.12 L717.57,139.32 L719.17,138.52 L720.77,137.73 L722.37,136.93 L723.97,136.15 L725.57,135.37 L727.17,134.59 L728.77,133.82 L730.37,133.06 L731.97,132.31 L733.57,131.56 L735.17,130.82 L736.77,130.10 L738.38,129.38 L739.98,128.67 L741.58,127.98 L743.18,127.29 L744.78,126.61 L746.38,125.95 L747.98,125.29 L749.58,124.65 L751.18,124.01 L752.78,123.39 L754.38,122.77 L755.98,122.17 L757.58,121.58 L759.18,120.99 L760.78,120.42 L762.38,119.86 L763.98,119.31 L765.58,118.76 L767.18,118.23 L768.78,117.71 L770.38,117.19 L771.99,116.68 L773.59,116.19 L775.19,115.70 L776.79,115.22 L778.39,114.75 L779.99,114.29 L781.59,113.83 L783.19,113.38 L784.79,112.94 L786.39,112.51 L787.99,112.09 L789.59,111.67 L791.19,111.26 L792.79,110.86 L794.39,110.46 L795.99,110.07 L797.59,109.69 L799.19,109.32 L800.79,108.94 L802.39,108.58 L804.00,108.22 L805.60,107.87 L807.20,107.52 L808.80,107.18 L810.40,106.85 L812.00,106.52 L813.60,106.19 L815.20,105.87 L816.80,105.56 L818.40,105.25" stroke="#0000ff" stroke-width="2.6" stroke-dasharray="6.1 5.2"/>
</g>
<path d="M658.35,284.40v-3.8M658.35,44.40v3.8M578.33,284.40v-1.9M578.33,44.40v1.9M738.38,284.40v-1.9M738.38,44.40v1.9M498.30,264.40h3.8M818.40,264.40h-3.8M498.30,164.40h3.8M818.40,164.40h-3.8M498.30,64.40h3.8M818.40,64.40h-3.8M498.30,214.40h1.9M818.40,214.40h-1.9M498.30,114.40h1.9M818.40,114.40h-1.9" stroke="#000" stroke-width="0.8" fill="none"/>
<rect x="498.3" y="44.4" width="320.1" height="240.0" fill="none" stroke="#000" stroke-width="0.8"/>
<text x="487.8" y="270.7" font-size="18" text-anchor="end">0</text>
<text x="487.8" y="170.7" font-size="18" text-anchor="end">0.5</text>
<text x="487.8" y="70.7" font-size="18" text-anchor="end">1</text>
<text transform="translate(448.5,164.4) rotate(-90)" font-size="22.6" text-anchor="middle">S<tspan font-size="15.8" dy="5">LL</tspan><tspan dy="-5">(</tspan><tspan font-style="italic" dy="0.8">ω</tspan><tspan dy="1.7">=</tspan><tspan dy="-2.5">0) / S</tspan><tspan font-size="15.8" dy="5">0</tspan></text>
<text x="742.2" y="92.2" font-size="28">(e)</text>
<rect x="716.30" y="244.10" width="102.10" height="40.3" fill="#fff" stroke="#000" stroke-width="0.8"/>
<text x="806.7" y="271.6" font-size="22.6" text-anchor="end">U=Γ<tspan font-size="15.8" dy="4.5">0</tspan><tspan dy="-4.5">/10</tspan></text>
<rect x="506.70" y="52.20" width="120.4" height="89.8" fill="#fff" stroke="none"/>
<clipPath id="c8"><rect x="506.70" y="52.20" width="120.4" height="89.8"/></clipPath>
<g clip-path="url(#c8)" fill="none">
<path d="M506.70,134.52 L507.30,134.52 L507.90,134.52 L508.51,134.52 L509.11,134.52 L509.71,134.52 L510.31,134.52 L510.91,134.52 L511.52,134.52 L512.12,134.52 L512.72,134.52 L513.32,134.52 L513.92,134.52 L514.53,134.52 L515.13,134.52 L515.73,134.52 L516.33,134.52 L516.93,134.52 L517.54,134.52 L518.14,134.52 L518.74,134.52 L519.34,134.52 L519.94,134.52 L520.55,134.52 L521.15,134.52 L521.75,134.52 L522.35,134.52 L522.95,134.52 L523.56,134.52 L524.16,134.52 L524.76,134.52 L525.36,134.52 L525.96,134.52 L526.57,134.52 L527.17,134.52 L527.77,134.52 L528.37,134.52 L528.97,134.52 L529.58,134.52 L530.18,134.52 L530.78,134.52 L531.38,134.52 L531.98,134.52 L532.59,134.52 L533.19,134.52 L533.79,134.52 L534.39,134.52 L534.99,134.51 L535.60,134.51 L536.20,134.51 L536.80,134.51 L537.40,134.51 L538.00,134.51 L538.61,134.51 L539.21,134.51 L539.81,134.51 L540.41,134.51 L541.01,134.50 L541.62,134.50 L542.22,134.50 L542.82,134.49 L543.42,134.49 L544.02,134.48 L544.63,134.47 L545.23,134.46 L545.83,134.45 L546.43,134.43 L547.03,134.42 L547.64,134.39 L548.24,134.37 L548.84,134.33 L549.44,134.29 L550.04,134.24 L550.65,134.18 L551.25,134.11 L551.85,134.02 L552.45,133.91 L553.05,133.77 L553.66,133.61 L554.26,133.41 L554.86,133.17 L555.46,132.88 L556.06,132.53 L556.67,132.10 L557.27,131.59 L557.87,130.97 L558.47,130.23 L559.07,129.34 L559.68,128.29 L560.28,127.05 L560.88,125.60 L561.48,123.90 L562.08,121.95 L562.69,119.71 L563.29,117.19 L563.89,114.39 L564.49,111.32 L565.09,108.00 L565.70,104.49 L566.30,100.83 L566.90,97.10 L567.50,93.37 L568.10,89.71 L568.71,86.20 L569.31,82.88 L569.91,79.81 L570.51,77.01 L571.11,74.49 L571.72,72.25 L572.32,70.30 L572.92,68.60 L573.52,67.15 L574.12,65.91 L574.73,64.86 L575.33,63.97 L575.93,63.23 L576.53,62.61 L577.13,62.10 L577.74,61.67 L578.34,61.32 L578.94,61.03 L579.54,60.79 L580.14,60.59 L580.75,60.43 L581.35,60.29 L581.95,60.18 L582.55,60.09 L583.15,60.02 L583.76,59.96 L584.36,59.91 L584.96,59.87 L585.56,59.83 L586.16,59.81 L586.77,59.78 L587.37,59.77 L587.97,59.75 L588.57,59.74 L589.17,59.73 L589.78,59.72 L590.38,59.71 L590.98,59.71 L591.58,59.70 L592.18,59.70 L592.79,59.70 L593.39,59.69 L593.99,59.69 L594.59,59.69 L595.19,59.69 L595.80,59.69 L596.40,59.69 L597.00,59.69 L597.60,59.69 L598.20,59.69 L598.81,59.69 L599.41,59.68 L600.01,59.68 L600.61,59.68 L601.21,59.68 L601.82,59.68 L602.42,59.68 L603.02,59.68 L603.62,59.68 L604.22,59.68 L604.83,59.68 L605.43,59.68 L606.03,59.68 L606.63,59.68 L607.23,59.68 L607.84,59.68 L608.44,59.68 L609.04,59.68 L609.64,59.68 L610.24,59.68 L610.85,59.68 L611.45,59.68 L612.05,59.68 L612.65,59.68 L613.25,59.68 L613.86,59.68 L614.46,59.68 L615.06,59.68 L615.66,59.68 L616.26,59.68 L616.87,59.68 L617.47,59.68 L618.07,59.68 L618.67,59.68 L619.27,59.68 L619.88,59.68 L620.48,59.68 L621.08,59.68 L621.68,59.68 L622.28,59.68 L622.89,59.68 L623.49,59.68 L624.09,59.68 L624.69,59.68 L625.29,59.68 L625.90,59.68 L626.50,59.68 L627.10,59.68" stroke="#000" stroke-width="1.25" stroke-dasharray="1.25 2.25"/>
<path d="M506.70,134.52 L507.30,134.40 L507.90,134.29 L508.51,134.18 L509.11,134.07 L509.71,133.95 L510.31,133.84 L510.91,133.73 L511.52,133.61 L512.12,133.50 L512.72,133.38 L513.32,133.27 L513.92,133.15 L514.53,133.03 L515.13,132.91 L515.73,132.80 L516.33,132.68 L516.93,132.55 L517.54,132.43 L518.14,132.31 L518.74,132.19 L519.34,132.06 L519.94,131.93 L520.55,131.80 L521.15,131.67 L521.75,131.54 L522.35,131.41 L522.95,131.27 L523.56,131.14 L524.16,131.00 L524.76,130.86 L525.36,130.71 L525.96,130.57 L526.57,130.42 L527.17,130.27 L527.77,130.12 L528.37,129.96 L528.97,129.80 L529.58,129.64 L530.18,129.47 L530.78,129.30 L531.38,129.13 L531.98,128.95 L532.59,128.77 L533.19,128.59 L533.79,128.40 L534.39,128.21 L534.99,128.01 L535.60,127.80 L536.20,127.60 L536.80,127.38 L537.40,127.16 L538.00,126.94 L538.61,126.71 L539.21,126.47 L539.81,126.22 L540.41,125.97 L541.01,125.71 L541.62,125.44 L542.22,125.17 L542.82,124.88 L543.42,124.59 L544.02,124.28 L544.63,123.97 L545.23,123.65 L545.83,123.31 L546.43,122.97 L547.03,122.61 L547.64,122.24 L548.24,121.85 L548.84,121.46 L549.44,121.04 L550.04,120.61 L550.65,120.17 L551.25,119.71 L551.85,119.23 L552.45,118.74 L553.05,118.22 L553.66,117.68 L554.26,117.13 L554.86,116.55 L555.46,115.95 L556.06,115.32 L556.67,114.68 L557.27,114.00 L557.87,113.30 L558.47,112.58 L559.07,111.83 L559.68,111.05 L560.28,110.25 L560.88,109.43 L561.48,108.57 L562.08,107.70 L562.69,106.80 L563.29,105.88 L563.89,104.94 L564.49,103.98 L565.09,103.02 L565.70,102.04 L566.30,101.05 L566.90,100.06 L567.50,99.07 L568.10,98.09 L568.71,97.11 L569.31,96.15 L569.91,95.19 L570.51,94.25 L571.11,93.34 L571.72,92.44 L572.32,91.57 L572.92,90.72 L573.52,89.89 L574.12,89.09 L574.73,88.32 L575.33,87.57 L575.93,86.85 L576.53,86.16 L577.13,85.49 L577.74,84.85 L578.34,84.23 L578.94,83.64 L579.54,83.06 L580.14,82.51 L580.75,81.98 L581.35,81.48 L581.95,80.99 L582.55,80.52 L583.15,80.06 L583.76,79.63 L584.36,79.21 L584.96,78.80 L585.56,78.42 L586.16,78.04 L586.77,77.68 L587.37,77.33 L587.97,77.00 L588.57,76.67 L589.17,76.36 L589.78,76.06 L590.38,75.77 L590.98,75.49 L591.58,75.21 L592.18,74.95 L592.79,74.70 L593.39,74.45 L593.99,74.21 L594.59,73.98 L595.19,73.76 L595.80,73.54 L596.40,73.33 L597.00,73.13 L597.60,72.93 L598.20,72.74 L598.81,72.56 L599.41,72.38 L600.01,72.20 L600.61,72.03 L601.21,71.86 L601.82,71.70 L602.42,71.55 L603.02,71.39 L603.62,71.25 L604.22,71.10 L604.83,70.96 L605.43,70.82 L606.03,70.69 L606.63,70.56 L607.23,70.43 L607.84,70.31 L608.44,70.19 L609.04,70.07 L609.64,69.96 L610.24,69.84 L610.85,69.74 L611.45,69.63 L612.05,69.52 L612.65,69.42 L613.25,69.32 L613.86,69.22 L614.46,69.13 L615.06,69.03 L615.66,68.94 L616.26,68.85 L616.87,68.76 L617.47,68.68 L618.07,68.59 L618.67,68.51 L619.27,68.43 L619.88,68.35 L620.48,68.27 L621.08,68.20 L621.68,68.12 L622.28,68.05 L622.89,67.98 L623.49,67.91 L624.09,67.84 L624.69,67.77 L625.29,67.70 L625.90,67.64 L626.50,67.57 L627.10,67.51" stroke="#ff0000" stroke-width="0.8"/>
<path d="M506.70,134.52 L507.30,134.40 L507.90,134.29 L508.51,134.18 L509.11,134.07 L509.71,133.95 L510.31,133.84 L510.91,133.73 L511.52,133.61 L512.12,133.50 L512.72,133.38 L513.32,133.27 L513.92,133.15 L514.53,133.03 L515.13,132.91 L515.73,132.80 L516.33,132.68 L516.93,132.55 L517.54,132.43 L518.14,132.31 L518.74,132.19 L519.34,132.06 L519.94,131.93 L520.55,131.80 L521.15,131.67 L521.75,131.54 L522.35,131.41 L522.95,131.27 L523.56,131.14 L524.16,131.00 L524.76,130.86 L525.36,130.71 L525.96,130.57 L526.57,130.42 L527.17,130.27 L527.77,130.12 L528.37,129.96 L528.97,129.80 L529.58,129.64 L530.18,129.47 L530.78,129.30 L531.38,129.13 L531.98,128.95 L532.59,128.77 L533.19,128.59 L533.79,128.40 L534.39,128.21 L534.99,128.01 L535.60,127.80 L536.20,127.60 L536.80,127.38 L537.40,127.16 L538.00,126.94 L538.61,126.71 L539.21,126.47 L539.81,126.22 L540.41,125.97 L541.01,125.71 L541.62,125.44 L542.22,125.17 L542.82,124.88 L543.42,124.59 L544.02,124.28 L544.63,123.97 L545.23,123.65 L545.83,123.31 L546.43,122.97 L547.03,122.61 L547.64,122.24 L548.24,121.85 L548.84,121.46 L549.44,121.04 L550.04,120.61 L550.65,120.17 L551.25,119.71 L551.85,119.23 L552.45,118.74 L553.05,118.22 L553.66,117.68 L554.26,117.13 L554.86,116.55 L555.46,115.95 L556.06,115.32 L556.67,114.68 L557.27,114.00 L557.87,113.30 L558.47,112.58 L559.07,111.83 L559.68,111.05 L560.28,110.25 L560.88,109.43 L561.48,108.57 L562.08,107.70 L562.69,106.80 L563.29,105.88 L563.89,104.94 L564.49,103.98 L565.09,103.02 L565.70,102.04 L566.30,101.05 L566.90,100.06 L567.50,99.07 L568.10,98.09 L568.71,97.11 L569.31,96.15 L569.91,95.19 L570.51,94.25 L571.11,93.34 L571.72,92.44 L572.32,91.57 L572.92,90.72 L573.52,89.89 L574.12,89.09 L574.73,88.32 L575.33,87.57 L575.93,86.85 L576.53,86.16 L577.13,85.49 L577.74,84.85 L578.34,84.23 L578.94,83.64 L579.54,83.06 L580.14,82.51 L580.75,81.98 L581.35,81.48 L581.95,80.99 L582.55,80.52 L583.15,80.06 L583.76,79.63 L584.36,79.21 L584.96,78.80 L585.56,78.42 L586.16,78.04 L586.77,77.68 L587.37,77.33 L587.97,77.00 L588.57,76.67 L589.17,76.36 L589.78,76.06 L590.38,75.77 L590.98,75.49 L591.58,75.21 L592.18,74.95 L592.79,74.70 L593.39,74.45 L593.99,74.21 L594.59,73.98 L595.19,73.76 L595.80,73.54 L596.40,73.33 L597.00,73.13 L597.60,72.93 L598.20,72.74 L598.81,72.56 L599.41,72.38 L600.01,72.20 L600.61,72.03 L601.21,71.86 L601.82,71.70 L602.42,71.55 L603.02,71.39 L603.62,71.25 L604.22,71.10 L604.83,70.96 L605.43,70.82 L606.03,70.69 L606.63,70.56 L607.23,70.43 L607.84,70.31 L608.44,70.19 L609.04,70.07 L609.64,69.96 L610.24,69.84 L610.85,69.74 L611.45,69.63 L612.05,69.52 L612.65,69.42 L613.25,69.32 L613.86,69.22 L614.46,69.13 L615.06,69.03 L615.66,68.94 L616.26,68.85 L616.87,68.76 L617.47,68.68 L618.07,68.59 L618.67,68.51 L619.27,68.43 L619.88,68.35 L620.48,68.27 L621.08,68.20 L621.68,68.12 L622.28,68.05 L622.89,67.98 L623.49,67.91 L624.09,67.84 L624.69,67.77 L625.29,67.70 L625.90,67.64 L626.50,67.57 L627.10,67.51" stroke="#0000ff" stroke-width="2.6" stroke-dasharray="6.1 5.2"/>
</g>
<path d="M566.90,142.00v-6.6M566.90,52.20v6.6M536.80,142.00v-3.5M536.80,52.20v3.5M597.00,142.00v-3.5M597.00,52.20v3.5M506.70,134.52h6.6M627.10,134.52h-6.6M506.70,97.10h6.6M627.10,97.10h-6.6M506.70,59.68h6.6M627.10,59.68h-6.6M506.70,115.81h3.5M627.10,115.81h-3.5M506.70,78.39h3.5M627.10,78.39h-3.5" stroke="#000" stroke-width="0.8" fill="none"/>
<rect x="506.70" y="52.20" width="120.4" height="89.8" fill="none" stroke="#000" stroke-width="0.8"/>
<text x="506.7" y="156.9" font-size="11.3" text-anchor="middle">0</text>
<text x="566.9" y="156.9" font-size="11.3" text-anchor="middle">10</text>
<text x="627.1" y="156.9" font-size="11.3" text-anchor="middle">20</text>
<text x="633.6" y="138.3" font-size="11.3">0</text>
<text x="633.6" y="100.9" font-size="11.3">0.5</text>
<text x="633.6" y="63.5" font-size="11.3">1</text>
<text x="514.2" y="70.4" font-size="14.3">I<tspan font-size="9.8" dy="2.8">L</tspan><tspan dy="-2.8"> / I</tspan><tspan font-size="9.8" dy="2.8">0</tspan></text>
<text x="566.9" y="175.6" font-size="14" text-anchor="middle">|e|V<tspan font-size="9.8" dy="2.8">sd</tspan><tspan dy="-2.8"> / Γ</tspan><tspan font-size="9.8" dy="2.8">0</tspan></text>
<clipPath id="c9"><rect x="498.3" y="284.4" width="320.1" height="240.0"/></clipPath>
<g clip-path="url(#c9)" fill="none">
<path d="M498.30,504.40 L499.90,504.40 L501.50,504.40 L503.10,504.40 L504.70,504.40 L506.30,504.40 L507.90,504.40 L509.50,504.40 L511.10,504.40 L512.70,504.40 L514.31,504.40 L515.91,504.40 L517.51,504.40 L519.11,504.40 L520.71,504.40 L522.31,504.40 L523.91,504.40 L525.51,504.40 L527.11,504.40 L528.71,504.40 L530.31,504.40 L531.91,504.40 L533.51,504.40 L535.11,504.40 L536.71,504.40 L538.31,504.40 L539.91,504.40 L541.51,504.40 L543.11,504.40 L544.71,504.40 L546.32,504.40 L547.92,504.40 L549.52,504.40 L551.12,504.40 L552.72,504.40 L554.32,504.40 L555.92,504.40 L557.52,504.40 L559.12,504.40 L560.72,504.40 L562.32,504.40 L563.92,504.40 L565.52,504.40 L567.12,504.40 L568.72,504.39 L570.32,504.39 L571.92,504.39 L573.52,504.39 L575.12,504.39 L576.72,504.39 L578.33,504.38 L579.93,504.38 L581.53,504.37 L583.13,504.37 L584.73,504.36 L586.33,504.35 L587.93,504.34 L589.53,504.33 L591.13,504.31 L592.73,504.29 L594.33,504.27 L595.93,504.24 L597.53,504.20 L599.13,504.16 L600.73,504.10 L602.33,504.04 L603.93,503.96 L605.53,503.86 L607.13,503.74 L608.73,503.59 L610.34,503.41 L611.94,503.12 L613.54,502.68 L615.14,502.11 L616.74,501.47 L618.34,500.78 L619.94,500.04 L621.54,499.17 L623.14,498.16 L624.74,497.00 L626.34,495.67 L627.94,494.15 L629.54,492.36 L631.14,490.23 L632.74,487.71 L634.34,484.88 L635.94,481.63 L637.54,477.76 L639.14,473.17 L640.74,467.88 L642.35,461.93 L643.95,455.73 L645.55,449.58 L647.15,442.59 L648.75,434.05 L650.35,424.48 L651.95,414.30 L653.55,403.85 L655.15,393.58 L656.75,386.00 L658.35,379.83 L659.95,373.32 L661.55,365.79 L663.15,359.08 L664.75,352.33 L666.35,345.54 L667.95,339.42 L669.55,333.56 L671.15,328.70 L672.75,324.64 L674.36,321.20 L675.96,318.37 L677.56,315.85 L679.16,313.58 L680.76,311.87 L682.36,310.34 L683.96,308.94 L685.56,307.71 L687.16,306.84 L688.76,306.32 L690.36,305.88 L691.96,305.51 L693.56,305.21 L695.16,304.98 L696.76,304.81 L698.36,304.70 L699.96,304.63 L701.56,304.56 L703.16,304.49 L704.76,304.43 L706.37,304.40 L707.97,304.40 L709.57,304.40 L711.17,304.40 L712.77,304.40 L714.37,304.40 L715.97,304.40 L717.57,304.40 L719.17,304.40 L720.77,304.40 L722.37,304.40 L723.97,304.40 L725.57,304.40 L727.17,304.40 L728.77,304.40 L730.37,304.40 L731.97,304.40 L733.57,304.40 L735.17,304.40 L736.77,304.40 L738.38,304.40 L739.98,304.40 L741.58,304.40 L743.18,304.40 L744.78,304.40 L746.38,304.40 L747.98,304.40 L749.58,304.40 L751.18,304.40 L752.78,304.40 L754.38,304.40 L755.98,304.40 L757.58,304.40 L759.18,304.40 L760.78,304.40 L762.38,304.40 L763.98,304.40 L765.58,304.40 L767.18,304.40 L768.78,304.40 L770.38,304.40 L771.99,304.40 L773.59,304.40 L775.19,304.40 L776.79,304.40 L778.39,304.40 L779.99,304.40 L781.59,304.40 L783.19,304.40 L784.79,304.40 L786.39,304.40 L787.99,304.40 L789.59,304.40 L791.19,304.40 L792.79,304.40 L794.39,304.40 L795.99,304.40 L797.59,304.40 L799.19,304.40 L800.79,304.40 L802.39,304.40 L804.00,304.40 L805.60,304.40 L807.20,304.40 L808.80,304.40 L810.40,304.40 L812.00,304.40 L813.60,304.40 L815.20,304.40 L816.80,304.40 L818.40,304.40" stroke="#000" stroke-width="1.25" stroke-dasharray="1.25 2.25"/>
<path d="M498.30,501.39 L499.90,501.36 L501.50,501.25 L503.10,501.06 L504.70,500.82 L506.30,500.51 L507.90,500.16 L509.50,499.76 L511.10,499.32 L512.70,498.85 L514.31,498.35 L515.91,497.84 L517.51,497.31 L519.11,496.76 L520.71,496.20 L522.31,495.63 L523.91,495.05 L525.51,494.47 L527.11,493.87 L528.71,493.28 L530.31,492.67 L531.91,492.06 L533.51,491.44 L535.11,490.81 L536.71,490.18 L538.31,489.54 L539.91,488.89 L541.51,488.24 L543.11,487.57 L544.71,486.90 L546.32,486.22 L547.92,485.53 L549.52,484.83 L551.12,484.12 L552.72,483.41 L554.32,482.68 L555.92,481.93 L557.52,481.18 L559.12,480.42 L560.72,479.64 L562.32,478.85 L563.92,478.04 L565.52,477.22 L567.12,476.39 L568.72,475.54 L570.32,474.67 L571.92,473.79 L573.52,472.89 L575.12,471.98 L576.72,471.04 L578.33,470.09 L579.93,469.12 L581.53,468.12 L583.13,467.11 L584.73,466.07 L586.33,465.01 L587.93,463.93 L589.53,462.83 L591.13,461.70 L592.73,460.54 L594.33,459.36 L595.93,458.16 L597.53,456.92 L599.13,455.66 L600.73,454.37 L602.33,453.05 L603.93,451.70 L605.53,450.32 L607.13,448.90 L608.73,447.46 L610.34,445.98 L611.94,444.47 L613.54,442.93 L615.14,441.35 L616.74,439.74 L618.34,438.10 L619.94,436.42 L621.54,434.72 L623.14,432.97 L624.74,431.20 L626.34,429.40 L627.94,427.57 L629.54,425.71 L631.14,423.84 L632.74,421.94 L634.34,420.04 L635.94,418.13 L637.54,416.22 L639.14,414.33 L640.74,412.46 L642.35,410.63 L643.95,408.82 L645.55,407.04 L647.15,405.31 L648.75,403.66 L650.35,402.10 L651.95,400.59 L653.55,399.15 L655.15,397.94 L656.75,397.13 L658.35,396.71 L659.95,396.55 L661.55,396.50 L663.15,396.41 L664.75,396.14 L666.35,395.81 L667.95,395.46 L669.55,395.10 L671.15,394.73 L672.75,394.36 L674.36,394.02 L675.96,393.70 L677.56,393.44 L679.16,393.23 L680.76,393.01 L682.36,392.76 L683.96,392.48 L685.56,392.15 L687.16,391.79 L688.76,391.38 L690.36,390.94 L691.96,390.46 L693.56,389.94 L695.16,389.40 L696.76,388.84 L698.36,388.28 L699.96,387.68 L701.56,387.04 L703.16,386.34 L704.76,385.60 L706.37,384.84 L707.97,384.07 L709.57,383.29 L711.17,382.50 L712.77,381.71 L714.37,380.91 L715.97,380.12 L717.57,379.32 L719.17,378.52 L720.77,377.73 L722.37,376.93 L723.97,376.15 L725.57,375.37 L727.17,374.59 L728.77,373.82 L730.37,373.06 L731.97,372.31 L733.57,371.56 L735.17,370.82 L736.77,370.10 L738.38,369.38 L739.98,368.67 L741.58,367.98 L743.18,367.29 L744.78,366.61 L746.38,365.95 L747.98,365.29 L749.58,364.65 L751.18,364.01 L752.78,363.39 L754.38,362.77 L755.98,362.17 L757.58,361.58 L759.18,360.99 L760.78,360.42 L762.38,359.86 L763.98,359.31 L765.58,358.76 L767.18,358.23 L768.78,357.71 L770.38,357.19 L771.99,356.68 L773.59,356.19 L775.19,355.70 L776.79,355.22 L778.39,354.75 L779.99,354.29 L781.59,353.83 L783.19,353.38 L784.79,352.94 L786.39,352.51 L787.99,352.09 L789.59,351.67 L791.19,351.26 L792.79,350.86 L794.39,350.46 L795.99,350.07 L797.59,349.69 L799.19,349.32 L800.79,348.94 L802.39,348.58 L804.00,348.22 L805.60,347.87 L807.20,347.52 L808.80,347.18 L810.40,346.85 L812.00,346.52 L813.60,346.19 L815.20,345.87 L816.80,345.56 L818.40,345.25" stroke="#ff0000" stroke-width="0.8"/>
<path d="M498.30,501.39 L499.90,501.36 L501.50,501.25 L503.10,501.06 L504.70,500.82 L506.30,500.51 L507.90,500.16 L509.50,499.76 L511.10,499.32 L512.70,498.85 L514.31,498.35 L515.91,497.84 L517.51,497.31 L519.11,496.76 L520.71,496.20 L522.31,495.63 L523.91,495.05 L525.51,494.47 L527.11,493.87 L528.71,493.28 L530.31,492.67 L531.91,492.06 L533.51,491.44 L535.11,490.81 L536.71,490.18 L538.31,489.54 L539.91,488.89 L541.51,488.24 L543.11,487.57 L544.71,486.90 L546.32,486.22 L547.92,485.53 L549.52,484.83 L551.12,484.12 L552.72,483.41 L554.32,482.68 L555.92,481.93 L557.52,481.18 L559.12,480.42 L560.72,479.64 L562.32,478.86 L563.92,478.07 L565.52,477.28 L567.12,476.48 L568.72,475.67 L570.32,474.85 L571.92,474.01 L573.52,473.16 L575.12,472.29 L576.72,471.40 L578.33,470.49 L579.93,469.56 L581.53,468.60 L583.13,467.63 L584.73,466.64 L586.33,465.62 L587.93,464.59 L589.53,463.53 L591.13,462.45 L592.73,461.35 L594.33,460.23 L595.93,459.08 L597.53,457.90 L599.13,456.71 L600.73,455.48 L602.33,454.24 L603.93,452.96 L605.53,451.66 L607.13,450.33 L608.73,448.98 L610.34,447.60 L611.94,446.20 L613.54,444.79 L615.14,443.35 L616.74,441.89 L618.34,440.40 L619.94,438.88 L621.54,437.33 L623.14,435.75 L624.74,434.13 L626.34,432.48 L627.94,430.81 L629.54,429.11 L631.14,427.39 L632.74,425.66 L634.34,423.92 L635.94,422.18 L637.54,420.45 L639.14,418.75 L640.74,417.07 L642.35,415.42 L643.95,413.83 L645.55,412.33 L647.15,410.99 L648.75,410.00 L650.35,409.15 L651.95,408.09 L653.55,406.79 L655.15,405.70 L656.75,405.16 L658.35,405.17 L659.95,405.58 L661.55,406.17 L663.15,406.69 L664.75,407.02 L666.35,407.39 L667.95,407.70 L669.55,407.79 L671.15,407.53 L672.75,407.16 L674.36,406.82 L675.96,406.50 L677.56,406.12 L679.16,405.47 L680.76,404.76 L682.36,404.21 L683.96,403.72 L685.56,403.14 L687.16,402.48 L688.76,401.75 L690.36,400.97 L691.96,400.15 L693.56,399.31 L695.16,398.43 L696.76,397.56 L698.36,396.72 L699.96,395.91 L701.56,395.13 L703.16,394.41 L704.76,393.72 L706.37,392.97 L707.97,392.15 L709.57,391.29 L711.17,390.40 L712.77,389.45 L714.37,388.42 L715.97,387.36 L717.57,386.30 L719.17,385.30 L720.77,384.36 L722.37,383.44 L723.97,382.53 L725.57,381.64 L727.17,380.76 L728.77,379.89 L730.37,379.05 L731.97,378.24 L733.57,377.46 L735.17,376.68 L736.77,375.92 L738.38,375.15 L739.98,374.38 L741.58,373.60 L743.18,372.81 L744.78,372.01 L746.38,371.22 L747.98,370.43 L749.58,369.63 L751.18,368.84 L752.78,368.06 L754.38,367.30 L755.98,366.56 L757.58,365.82 L759.18,365.10 L760.78,364.38 L762.38,363.67 L763.98,362.97 L765.58,362.28 L767.18,361.61 L768.78,360.95 L770.38,360.31 L771.99,359.68 L773.59,359.07 L775.19,358.48 L776.79,357.89 L778.39,357.32 L779.99,356.75 L781.59,356.20 L783.19,355.66 L784.79,355.14 L786.39,354.62 L787.99,354.11 L789.59,353.62 L791.19,353.13 L792.79,352.65 L794.39,352.18 L795.99,351.72 L797.59,351.26 L799.19,350.81 L800.79,350.37 L802.39,349.94 L804.00,349.52 L805.60,349.10 L807.20,348.69 L808.80,348.29 L810.40,347.90 L812.00,347.51 L813.60,347.14 L815.20,346.77 L816.80,346.40 L818.40,346.05" stroke="#0000ff" stroke-width="2.6" stroke-dasharray="6.1 5.2"/>
</g>
<path d="M658.35,524.40v-3.8M658.35,284.40v3.8M578.33,524.40v-1.9M578.33,284.40v1.9M738.38,524.40v-1.9M738.38,284.40v1.9M498.30,504.40h3.8M818.40,504.40h-3.8M498.30,404.40h3.8M818.40,404.40h-3.8M498.30,304.40h3.8M818.40,304.40h-3.8M498.30,454.40h1.9M818.40,454.40h-1.9M498.30,354.40h1.9M818.40,354.40h-1.9" stroke="#000" stroke-width="0.8" fill="none"/>
<rect x="498.3" y="284.4" width="320.1" height="240.0" fill="none" stroke="#000" stroke-width="0.8"/>
<text x="487.8" y="510.7" font-size="18" text-anchor="end">0</text>
<text x="487.8" y="410.7" font-size="18" text-anchor="end">0.5</text>
<text x="487.8" y="310.7" font-size="18" text-anchor="end">1</text>
<text transform="translate(448.5,404.4) rotate(-90)" font-size="22.6" text-anchor="middle">S<tspan font-size="15.8" dy="5">LL</tspan><tspan dy="-5">(</tspan><tspan font-style="italic" dy="0.8">ω</tspan><tspan dy="1.7">=</tspan><tspan dy="-2.5">0) / S</tspan><tspan font-size="15.8" dy="5">0</tspan></text>
<text x="742.2" y="332.2" font-size="28">(f)</text>
<rect x="727.40" y="484.10" width="91.00" height="40.3" fill="#fff" stroke="#000" stroke-width="0.8"/>
<text x="806.7" y="511.6" font-size="22.6" text-anchor="end">U=Γ<tspan font-size="15.8" dy="4.5">0</tspan><tspan dy="-4.5">/2</tspan></text>
<rect x="506.70" y="292.20" width="120.4" height="89.8" fill="#fff" stroke="none"/>
<clipPath id="c10"><rect x="506.70" y="292.20" width="120.4" height="89.8"/></clipPath>
<g clip-path="url(#c10)" fill="none">
<path d="M506.70,374.52 L507.30,374.52 L507.90,374.52 L508.51,374.52 L509.11,374.52 L509.71,374.52 L510.31,374.52 L510.91,374.52 L511.52,374.52 L512.12,374.52 L512.72,374.52 L513.32,374.52 L513.92,374.52 L514.53,374.52 L515.13,374.52 L515.73,374.52 L516.33,374.52 L516.93,374.52 L517.54,374.52 L518.14,374.52 L518.74,374.52 L519.34,374.52 L519.94,374.52 L520.55,374.52 L521.15,374.52 L521.75,374.52 L522.35,374.52 L522.95,374.52 L523.56,374.52 L524.16,374.52 L524.76,374.52 L525.36,374.52 L525.96,374.52 L526.57,374.52 L527.17,374.52 L527.77,374.52 L528.37,374.52 L528.97,374.52 L529.58,374.52 L530.18,374.52 L530.78,374.52 L531.38,374.52 L531.98,374.52 L532.59,374.52 L533.19,374.52 L533.79,374.52 L534.39,374.52 L534.99,374.51 L535.60,374.51 L536.20,374.51 L536.80,374.51 L537.40,374.51 L538.00,374.51 L538.61,374.51 L539.21,374.51 L539.81,374.51 L540.41,374.51 L541.01,374.50 L541.62,374.50 L542.22,374.50 L542.82,374.49 L543.42,374.49 L544.02,374.48 L544.63,374.47 L545.23,374.46 L545.83,374.45 L546.43,374.43 L547.03,374.42 L547.64,374.39 L548.24,374.37 L548.84,374.33 L549.44,374.29 L550.04,374.24 L550.65,374.18 L551.25,374.11 L551.85,374.02 L552.45,373.91 L553.05,373.77 L553.66,373.61 L554.26,373.41 L554.86,373.17 L555.46,372.88 L556.06,372.53 L556.67,372.10 L557.27,371.59 L557.87,370.97 L558.47,370.23 L559.07,369.36 L559.68,368.33 L560.28,367.11 L560.88,365.69 L561.48,364.04 L562.08,362.13 L562.69,359.95 L563.29,357.50 L563.89,354.77 L564.49,351.77 L565.09,348.55 L565.70,345.13 L566.30,341.58 L566.90,338.22 L567.50,335.29 L568.10,332.72 L568.71,330.43 L569.31,328.31 L569.91,326.28 L570.51,324.21 L571.11,321.97 L571.72,319.69 L572.32,317.59 L572.92,315.68 L573.52,313.96 L574.12,312.41 L574.73,311.03 L575.33,309.82 L575.93,308.77 L576.53,307.82 L577.13,306.92 L577.74,306.06 L578.34,305.25 L578.94,304.50 L579.54,303.82 L580.14,303.20 L580.75,302.67 L581.35,302.23 L581.95,301.90 L582.55,301.60 L583.15,301.33 L583.76,301.09 L584.36,300.88 L584.96,300.68 L585.56,300.51 L586.16,300.37 L586.77,300.25 L587.37,300.16 L587.97,300.09 L588.57,300.02 L589.17,299.96 L589.78,299.90 L590.38,299.85 L590.98,299.81 L591.58,299.77 L592.18,299.74 L592.79,299.71 L593.39,299.70 L593.99,299.69 L594.59,299.69 L595.19,299.69 L595.80,299.69 L596.40,299.69 L597.00,299.69 L597.60,299.69 L598.20,299.69 L598.81,299.69 L599.41,299.68 L600.01,299.68 L600.61,299.68 L601.21,299.68 L601.82,299.68 L602.42,299.68 L603.02,299.68 L603.62,299.68 L604.22,299.68 L604.83,299.68 L605.43,299.68 L606.03,299.68 L606.63,299.68 L607.23,299.68 L607.84,299.68 L608.44,299.68 L609.04,299.68 L609.64,299.68 L610.24,299.68 L610.85,299.68 L611.45,299.68 L612.05,299.68 L612.65,299.68 L613.25,299.68 L613.86,299.68 L614.46,299.68 L615.06,299.68 L615.66,299.68 L616.26,299.68 L616.87,299.68 L617.47,299.68 L618.07,299.68 L618.67,299.68 L619.27,299.68 L619.88,299.68 L620.48,299.68 L621.08,299.68 L621.68,299.68 L622.28,299.68 L622.89,299.68 L623.49,299.68 L624.09,299.68 L624.69,299.68 L625.29,299.68 L625.90,299.68 L626.50,299.68 L627.10,299.68" stroke="#000" stroke-width="1.25" stroke-dasharray="1.25 2.25"/>
<path d="M506.70,374.52 L507.30,374.40 L507.90,374.29 L508.51,374.18 L509.11,374.07 L509.71,373.95 L510.31,373.84 L510.91,373.73 L511.52,373.61 L512.12,373.50 L512.72,373.38 L513.32,373.27 L513.92,373.15 L514.53,373.03 L515.13,372.91 L515.73,372.80 L516.33,372.68 L516.93,372.55 L517.54,372.43 L518.14,372.31 L518.74,372.19 L519.34,372.06 L519.94,371.93 L520.55,371.80 L521.15,371.67 L521.75,371.54 L522.35,371.41 L522.95,371.27 L523.56,371.14 L524.16,371.00 L524.76,370.86 L525.36,370.71 L525.96,370.57 L526.57,370.42 L527.17,370.27 L527.77,370.12 L528.37,369.96 L528.97,369.80 L529.58,369.64 L530.18,369.47 L530.78,369.30 L531.38,369.13 L531.98,368.95 L532.59,368.77 L533.19,368.59 L533.79,368.40 L534.39,368.21 L534.99,368.01 L535.60,367.80 L536.20,367.60 L536.80,367.38 L537.40,367.16 L538.00,366.94 L538.61,366.71 L539.21,366.47 L539.81,366.22 L540.41,365.97 L541.01,365.71 L541.62,365.44 L542.22,365.17 L542.82,364.88 L543.42,364.59 L544.02,364.28 L544.63,363.97 L545.23,363.65 L545.83,363.31 L546.43,362.97 L547.03,362.61 L547.64,362.24 L548.24,361.85 L548.84,361.46 L549.44,361.04 L550.04,360.61 L550.65,360.17 L551.25,359.71 L551.85,359.23 L552.45,358.74 L553.05,358.22 L553.66,357.68 L554.26,357.13 L554.86,356.55 L555.46,355.95 L556.06,355.32 L556.67,354.68 L557.27,354.00 L557.87,353.30 L558.47,352.58 L559.07,351.83 L559.68,351.05 L560.28,350.25 L560.88,349.43 L561.48,348.57 L562.08,347.70 L562.69,346.80 L563.29,345.88 L563.89,344.94 L564.49,343.98 L565.09,343.02 L565.70,342.04 L566.30,341.05 L566.90,340.06 L567.50,339.07 L568.10,338.09 L568.71,337.11 L569.31,336.15 L569.91,335.19 L570.51,334.25 L571.11,333.34 L571.72,332.44 L572.32,331.57 L572.92,330.72 L573.52,329.89 L574.12,329.09 L574.73,328.32 L575.33,327.57 L575.93,326.85 L576.53,326.16 L577.13,325.49 L577.74,324.85 L578.34,324.23 L578.94,323.64 L579.54,323.06 L580.14,322.51 L580.75,321.98 L581.35,321.48 L581.95,320.99 L582.55,320.52 L583.15,320.06 L583.76,319.63 L584.36,319.21 L584.96,318.80 L585.56,318.42 L586.16,318.04 L586.77,317.68 L587.37,317.33 L587.97,317.00 L588.57,316.67 L589.17,316.36 L589.78,316.06 L590.38,315.77 L590.98,315.49 L591.58,315.21 L592.18,314.95 L592.79,314.70 L593.39,314.45 L593.99,314.21 L594.59,313.98 L595.19,313.76 L595.80,313.54 L596.40,313.33 L597.00,313.13 L597.60,312.93 L598.20,312.74 L598.81,312.56 L599.41,312.38 L600.01,312.20 L600.61,312.03 L601.21,311.86 L601.82,311.70 L602.42,311.55 L603.02,311.39 L603.62,311.25 L604.22,311.10 L604.83,310.96 L605.43,310.82 L606.03,310.69 L606.63,310.56 L607.23,310.43 L607.84,310.31 L608.44,310.19 L609.04,310.07 L609.64,309.96 L610.24,309.84 L610.85,309.74 L611.45,309.63 L612.05,309.52 L612.65,309.42 L613.25,309.32 L613.86,309.22 L614.46,309.13 L615.06,309.03 L615.66,308.94 L616.26,308.85 L616.87,308.76 L617.47,308.68 L618.07,308.59 L618.67,308.51 L619.27,308.43 L619.88,308.35 L620.48,308.27 L621.08,308.20 L621.68,308.12 L622.28,308.05 L622.89,307.98 L623.49,307.91 L624.09,307.84 L624.69,307.77 L625.29,307.70 L625.90,307.64 L626.50,307.57 L627.10,307.51" stroke="#ff0000" stroke-width="0.8"/>
<path d="M506.70,374.52 L507.30,374.40 L507.90,374.29 L508.51,374.18 L509.11,374.07 L509.71,373.95 L510.31,373.84 L510.91,373.73 L511.52,373.61 L512.12,373.50 L512.72,373.38 L513.32,373.27 L513.92,373.15 L514.53,373.03 L515.13,372.91 L515.73,372.80 L516.33,372.68 L516.93,372.55 L517.54,372.43 L518.14,372.31 L518.74,372.19 L519.34,372.06 L519.94,371.93 L520.55,371.80 L521.15,371.67 L521.75,371.54 L522.35,371.41 L522.95,371.27 L523.56,371.14 L524.16,371.00 L524.76,370.86 L525.36,370.71 L525.96,370.57 L526.57,370.42 L527.17,370.27 L527.77,370.12 L528.37,369.96 L528.97,369.80 L529.58,369.64 L530.18,369.47 L530.78,369.30 L531.38,369.13 L531.98,368.95 L532.59,368.77 L533.19,368.59 L533.79,368.40 L534.39,368.21 L534.99,368.01 L535.60,367.80 L536.20,367.60 L536.80,367.38 L537.40,367.16 L538.00,366.94 L538.61,366.71 L539.21,366.47 L539.81,366.22 L540.41,365.97 L541.01,365.71 L541.62,365.44 L542.22,365.17 L542.82,364.88 L543.42,364.59 L544.02,364.28 L544.63,363.97 L545.23,363.65 L545.83,363.31 L546.43,362.97 L547.03,362.61 L547.64,362.24 L548.24,361.85 L548.84,361.46 L549.44,361.04 L550.04,360.61 L550.65,360.17 L551.25,359.71 L551.85,359.23 L552.45,358.74 L553.05,358.22 L553.66,357.68 L554.26,357.13 L554.86,356.55 L555.46,355.95 L556.06,355.34 L556.67,354.72 L557.27,354.08 L557.87,353.42 L558.47,352.74 L559.07,352.04 L559.68,351.33 L560.28,350.59 L560.88,349.83 L561.48,349.05 L562.08,348.25 L562.69,347.43 L563.29,346.59 L563.89,345.73 L564.49,344.86 L565.09,343.97 L565.70,343.08 L566.30,342.17 L566.90,341.28 L567.50,340.41 L568.10,339.56 L568.71,338.73 L569.31,337.93 L569.91,337.14 L570.51,336.38 L571.11,335.63 L571.72,334.90 L572.32,334.18 L572.92,333.48 L573.52,332.78 L574.12,332.09 L574.73,331.39 L575.33,330.70 L575.93,330.00 L576.53,329.30 L577.13,328.61 L577.74,327.94 L578.34,327.28 L578.94,326.64 L579.54,326.01 L580.14,325.40 L580.75,324.80 L581.35,324.22 L581.95,323.66 L582.55,323.12 L583.15,322.59 L583.76,322.08 L584.36,321.59 L584.96,321.11 L585.56,320.66 L586.16,320.22 L586.77,319.79 L587.37,319.38 L587.97,318.97 L588.57,318.57 L589.17,318.18 L589.78,317.81 L590.38,317.44 L590.98,317.08 L591.58,316.74 L592.18,316.40 L592.79,316.07 L593.39,315.76 L593.99,315.46 L594.59,315.16 L595.19,314.88 L595.80,314.61 L596.40,314.34 L597.00,314.08 L597.60,313.83 L598.20,313.58 L598.81,313.34 L599.41,313.10 L600.01,312.87 L600.61,312.65 L601.21,312.44 L601.82,312.23 L602.42,312.04 L603.02,311.85 L603.62,311.67 L604.22,311.50 L604.83,311.34 L605.43,311.18 L606.03,311.03 L606.63,310.88 L607.23,310.74 L607.84,310.60 L608.44,310.46 L609.04,310.33 L609.64,310.20 L610.24,310.07 L610.85,309.95 L611.45,309.82 L612.05,309.71 L612.65,309.59 L613.25,309.48 L613.86,309.37 L614.46,309.26 L615.06,309.15 L615.66,309.05 L616.26,308.95 L616.87,308.85 L617.47,308.76 L618.07,308.66 L618.67,308.57 L619.27,308.48 L619.88,308.40 L620.48,308.31 L621.08,308.23 L621.68,308.15 L622.28,308.07 L622.89,307.99 L623.49,307.92 L624.09,307.84 L624.69,307.77 L625.29,307.70 L625.90,307.64 L626.50,307.57 L627.10,307.51" stroke="#0000ff" stroke-width="2.6" stroke-dasharray="6.1 5.2"/>
</g>
<path d="M566.90,382.00v-6.6M566.90,292.20v6.6M536.80,382.00v-3.5M536.80,292.20v3.5M597.00,382.00v-3.5M597.00,292.20v3.5M506.70,374.52h6.6M627.10,374.52h-6.6M506.70,337.10h6.6M627.10,337.10h-6.6M506.70,299.68h6.6M627.10,299.68h-6.6M506.70,355.81h3.5M627.10,355.81h-3.5M506.70,318.39h3.5M627.10,318.39h-3.5" stroke="#000" stroke-width="0.8" fill="none"/>
<rect x="506.70" y="292.20" width="120.4" height="89.8" fill="none" stroke="#000" stroke-width="0.8"/>
<text x="506.7" y="396.9" font-size="11.3" text-anchor="middle">0</text>
<text x="566.9" y="396.9" font-size="11.3" text-anchor="middle">10</text>
<text x="627.1" y="396.9" font-size="11.3" text-anchor="middle">20</text>
<text x="633.6" y="378.3" font-size="11.3">0</text>
<text x="633.6" y="340.9" font-size="11.3">0.5</text>
<text x="633.6" y="303.5" font-size="11.3">1</text>
<text x="514.2" y="310.4" font-size="14.3">I<tspan font-size="9.8" dy="2.8">L</tspan><tspan dy="-2.8"> / I</tspan><tspan font-size="9.8" dy="2.8">0</tspan></text>
<text x="566.9" y="415.6" font-size="14" text-anchor="middle">|e|V<tspan font-size="9.8" dy="2.8">sd</tspan><tspan dy="-2.8"> / Γ</tspan><tspan font-size="9.8" dy="2.8">0</tspan></text>
<clipPath id="c11"><rect x="498.3" y="524.4" width="320.1" height="240.0"/></clipPath>
<g clip-path="url(#c11)" fill="none">
<path d="M498.30,744.40 L499.90,744.40 L501.50,744.40 L503.10,744.40 L504.70,744.40 L506.30,744.40 L507.90,744.40 L509.50,744.40 L511.10,744.40 L512.70,744.40 L514.31,744.40 L515.91,744.40 L517.51,744.40 L519.11,744.40 L520.71,744.40 L522.31,744.40 L523.91,744.40 L525.51,744.40 L527.11,744.40 L528.71,744.40 L530.31,744.40 L531.91,744.40 L533.51,744.40 L535.11,744.40 L536.71,744.40 L538.31,744.40 L539.91,744.40 L541.51,744.40 L543.11,744.40 L544.71,744.40 L546.32,744.40 L547.92,744.40 L549.52,744.40 L551.12,744.40 L552.72,744.40 L554.32,744.40 L555.92,744.40 L557.52,744.40 L559.12,744.40 L560.72,744.40 L562.32,744.40 L563.92,744.40 L565.52,744.40 L567.12,744.40 L568.72,744.39 L570.32,744.39 L571.92,744.39 L573.52,744.39 L575.12,744.39 L576.72,744.39 L578.33,744.38 L579.93,744.38 L581.53,744.37 L583.13,744.37 L584.73,744.36 L586.33,744.35 L587.93,744.34 L589.53,744.33 L591.13,744.31 L592.73,744.29 L594.33,744.27 L595.93,744.24 L597.53,744.20 L599.13,744.16 L600.73,744.10 L602.33,744.04 L603.93,743.96 L605.53,743.86 L607.13,743.74 L608.73,743.59 L610.34,743.41 L611.94,743.12 L613.54,742.68 L615.14,742.11 L616.74,741.47 L618.34,740.78 L619.94,740.04 L621.54,739.17 L623.14,738.16 L624.74,737.00 L626.34,735.67 L627.94,734.33 L629.54,733.14 L631.14,731.55 L632.74,729.04 L634.34,725.88 L635.94,722.13 L637.54,717.70 L639.14,712.90 L640.74,707.73 L642.35,701.92 L643.95,695.66 L645.55,689.36 L647.15,682.41 L648.75,674.39 L650.35,665.85 L651.95,656.67 L653.55,646.68 L655.15,636.41 L656.75,627.81 L658.35,620.74 L659.95,614.53 L661.55,606.88 L663.15,600.08 L664.75,593.18 L666.35,585.98 L667.95,579.65 L669.55,573.93 L671.15,567.37 L672.75,561.85 L674.36,558.93 L675.96,556.82 L677.56,555.36 L679.16,554.30 L680.76,553.49 L682.36,552.84 L683.96,552.30 L685.56,551.80 L687.16,551.29 L688.76,550.73 L690.36,550.15 L691.96,549.56 L693.56,548.99 L695.16,548.45 L696.76,547.97 L698.36,547.57 L699.96,547.21 L701.56,546.86 L703.16,546.54 L704.76,546.25 L706.37,546.02 L707.97,545.82 L709.57,545.65 L711.17,545.46 L712.77,545.26 L714.37,545.06 L715.97,544.87 L717.57,544.73 L719.17,544.63 L720.77,544.56 L722.37,544.52 L723.97,544.48 L725.57,544.45 L727.17,544.42 L728.77,544.41 L730.37,544.40 L731.97,544.40 L733.57,544.40 L735.17,544.40 L736.77,544.40 L738.38,544.40 L739.98,544.40 L741.58,544.40 L743.18,544.40 L744.78,544.40 L746.38,544.40 L747.98,544.40 L749.58,544.40 L751.18,544.40 L752.78,544.40 L754.38,544.40 L755.98,544.40 L757.58,544.40 L759.18,544.40 L760.78,544.40 L762.38,544.40 L763.98,544.40 L765.58,544.40 L767.18,544.40 L768.78,544.40 L770.38,544.40 L771.99,544.40 L773.59,544.40 L775.19,544.40 L776.79,544.40 L778.39,544.40 L779.99,544.40 L781.59,544.40 L783.19,544.40 L784.79,544.40 L786.39,544.40 L787.99,544.40 L789.59,544.40 L791.19,544.40 L792.79,544.40 L794.39,544.40 L795.99,544.40 L797.59,544.40 L799.19,544.40 L800.79,544.40 L802.39,544.40 L804.00,544.40 L805.60,544.40 L807.20,544.40 L808.80,544.40 L810.40,544.40 L812.00,544.40 L813.60,544.40 L815.20,544.40 L816.80,544.40 L818.40,544.40" stroke="#000" stroke-width="1.25" stroke-dasharray="1.25 2.25"/>
<path d="M498.30,741.39 L499.90,741.36 L501.50,741.25 L503.10,741.06 L504.70,740.82 L506.30,740.51 L507.90,740.16 L509.50,739.76 L511.10,739.32 L512.70,738.85 L514.31,738.35 L515.91,737.84 L517.51,737.31 L519.11,736.76 L520.71,736.20 L522.31,735.63 L523.91,735.05 L525.51,734.47 L527.11,733.87 L528.71,733.28 L530.31,732.67 L531.91,732.06 L533.51,731.44 L535.11,730.81 L536.71,730.18 L538.31,729.54 L539.91,728.89 L541.51,728.24 L543.11,727.57 L544.71,726.90 L546.32,726.22 L547.92,725.53 L549.52,724.83 L551.12,724.12 L552.72,723.41 L554.32,722.68 L555.92,721.93 L557.52,721.18 L559.12,720.42 L560.72,719.64 L562.32,718.85 L563.92,718.04 L565.52,717.22 L567.12,716.39 L568.72,715.54 L570.32,714.67 L571.92,713.79 L573.52,712.89 L575.12,711.98 L576.72,711.04 L578.33,710.09 L579.93,709.12 L581.53,708.12 L583.13,707.11 L584.73,706.07 L586.33,705.01 L587.93,703.93 L589.53,702.83 L591.13,701.70 L592.73,700.54 L594.33,699.36 L595.93,698.16 L597.53,696.92 L599.13,695.66 L600.73,694.37 L602.33,693.05 L603.93,691.70 L605.53,690.32 L607.13,688.90 L608.73,687.46 L610.34,685.98 L611.94,684.47 L613.54,682.93 L615.14,681.35 L616.74,679.74 L618.34,678.10 L619.94,676.42 L621.54,674.72 L623.14,672.97 L624.74,671.20 L626.34,669.40 L627.94,667.57 L629.54,665.71 L631.14,663.84 L632.74,661.94 L634.34,660.04 L635.94,658.13 L637.54,656.22 L639.14,654.33 L640.74,652.46 L642.35,650.63 L643.95,648.83 L645.55,647.05 L647.15,645.33 L648.75,643.67 L650.35,642.18 L651.95,641.22 L653.55,640.39 L655.15,639.34 L656.75,638.45 L658.35,637.92 L659.95,637.62 L661.55,637.42 L663.15,637.19 L664.75,636.78 L666.35,636.30 L667.95,635.81 L669.55,635.29 L671.15,634.75 L672.75,634.18 L674.36,633.61 L675.96,633.05 L677.56,632.53 L679.16,632.06 L680.76,631.68 L682.36,631.35 L683.96,631.04 L685.56,630.68 L687.16,630.27 L688.76,629.81 L690.36,629.30 L691.96,628.76 L693.56,628.18 L695.16,627.58 L696.76,627.02 L698.36,626.49 L699.96,625.98 L701.56,625.48 L703.16,624.96 L704.76,624.38 L706.37,623.74 L707.97,623.08 L709.57,622.41 L711.17,621.72 L712.77,621.02 L714.37,620.30 L715.97,619.57 L717.57,618.83 L719.17,618.09 L720.77,617.34 L722.37,616.60 L723.97,615.85 L725.57,615.10 L727.17,614.35 L728.77,613.61 L730.37,612.88 L731.97,612.16 L733.57,611.44 L735.17,610.73 L736.77,610.02 L738.38,609.33 L739.98,608.64 L741.58,607.96 L743.18,607.28 L744.78,606.61 L746.38,605.95 L747.98,605.29 L749.58,604.65 L751.18,604.01 L752.78,603.39 L754.38,602.77 L755.98,602.17 L757.58,601.58 L759.18,600.99 L760.78,600.42 L762.38,599.86 L763.98,599.31 L765.58,598.76 L767.18,598.23 L768.78,597.71 L770.38,597.19 L771.99,596.68 L773.59,596.19 L775.19,595.70 L776.79,595.22 L778.39,594.75 L779.99,594.29 L781.59,593.83 L783.19,593.38 L784.79,592.94 L786.39,592.51 L787.99,592.09 L789.59,591.67 L791.19,591.26 L792.79,590.86 L794.39,590.46 L795.99,590.07 L797.59,589.69 L799.19,589.32 L800.79,588.94 L802.39,588.58 L804.00,588.22 L805.60,587.87 L807.20,587.52 L808.80,587.18 L810.40,586.85 L812.00,586.52 L813.60,586.19 L815.20,585.87 L816.80,585.56 L818.40,585.25" stroke="#ff0000" stroke-width="0.8"/>
<path d="M498.30,741.39 L499.90,741.36 L501.50,741.25 L503.10,741.06 L504.70,740.82 L506.30,740.51 L507.90,740.16 L509.50,739.76 L511.10,739.32 L512.70,738.85 L514.31,738.35 L515.91,737.84 L517.51,737.31 L519.11,736.76 L520.71,736.20 L522.31,735.63 L523.91,735.05 L525.51,734.47 L527.11,733.87 L528.71,733.28 L530.31,732.67 L531.91,732.06 L533.51,731.44 L535.11,730.81 L536.71,730.18 L538.31,729.54 L539.91,728.89 L541.51,728.24 L543.11,727.57 L544.71,726.90 L546.32,726.22 L547.92,725.54 L549.52,724.85 L551.12,724.16 L552.72,723.46 L554.32,722.76 L555.92,722.05 L557.52,721.33 L559.12,720.60 L560.72,719.85 L562.32,719.10 L563.92,718.35 L565.52,717.58 L567.12,716.81 L568.72,716.03 L570.32,715.24 L571.92,714.44 L573.52,713.63 L575.12,712.80 L576.72,711.95 L578.33,711.09 L579.93,710.22 L581.53,709.34 L583.13,708.45 L584.73,707.55 L586.33,706.63 L587.93,705.70 L589.53,704.74 L591.13,703.76 L592.73,702.76 L594.33,701.72 L595.93,700.66 L597.53,699.57 L599.13,698.45 L600.73,697.31 L602.33,696.14 L603.93,694.95 L605.53,693.75 L607.13,692.52 L608.73,691.28 L610.34,690.03 L611.94,688.79 L613.54,687.58 L615.14,686.37 L616.74,685.16 L618.34,683.92 L619.94,682.64 L621.54,681.32 L623.14,679.93 L624.74,678.46 L626.34,676.93 L627.94,675.35 L629.54,673.74 L631.14,672.09 L632.74,670.43 L634.34,668.75 L635.94,666.93 L637.54,664.90 L639.14,662.79 L640.74,660.73 L642.35,658.83 L643.95,657.14 L645.55,655.60 L647.15,654.13 L648.75,652.79 L650.35,651.56 L651.95,650.35 L653.55,649.49 L655.15,648.96 L656.75,648.74 L658.35,648.61 L659.95,648.82 L661.55,649.70 L663.15,650.92 L664.75,652.12 L666.35,653.53 L667.95,654.47 L669.55,655.17 L671.15,655.91 L672.75,656.37 L674.36,656.66 L675.96,656.59 L677.56,656.13 L679.16,655.66 L680.76,655.23 L682.36,654.85 L683.96,654.24 L685.56,653.41 L687.16,652.49 L688.76,651.63 L690.36,650.91 L691.96,650.10 L693.56,649.12 L695.16,648.01 L696.76,646.90 L698.36,645.83 L699.96,644.75 L701.56,643.72 L703.16,642.76 L704.76,641.85 L706.37,640.95 L707.97,640.03 L709.57,639.09 L711.17,638.15 L712.77,637.23 L714.37,636.31 L715.97,635.40 L717.57,634.48 L719.17,633.53 L720.77,632.55 L722.37,631.54 L723.97,630.51 L725.57,629.48 L727.17,628.46 L728.77,627.45 L730.37,626.49 L731.97,625.59 L733.57,624.72 L735.17,623.84 L736.77,622.92 L738.38,621.93 L739.98,620.96 L741.58,620.00 L743.18,619.05 L744.78,618.11 L746.38,617.18 L747.98,616.25 L749.58,615.31 L751.18,614.38 L752.78,613.46 L754.38,612.54 L755.98,611.65 L757.58,610.77 L759.18,609.92 L760.78,609.08 L762.38,608.26 L763.98,607.46 L765.58,606.68 L767.18,605.92 L768.78,605.18 L770.38,604.46 L771.99,603.76 L773.59,603.06 L775.19,602.36 L776.79,601.66 L778.39,600.97 L779.99,600.29 L781.59,599.62 L783.19,598.97 L784.79,598.34 L786.39,597.72 L787.99,597.13 L789.59,596.57 L791.19,596.01 L792.79,595.47 L794.39,594.93 L795.99,594.40 L797.59,593.89 L799.19,593.38 L800.79,592.89 L802.39,592.40 L804.00,591.93 L805.60,591.47 L807.20,591.02 L808.80,590.58 L810.40,590.16 L812.00,589.75 L813.60,589.35 L815.20,588.97 L816.80,588.60 L818.40,588.25" stroke="#0000ff" stroke-width="2.6" stroke-dasharray="6.1 5.2"/>
</g>
<path d="M658.35,764.40v-3.8M658.35,524.40v3.8M578.33,764.40v-1.9M578.33,524.40v1.9M738.38,764.40v-1.9M738.38,524.40v1.9M498.30,744.40h3.8M818.40,744.40h-3.8M498.30,644.40h3.8M818.40,644.40h-3.8M498.30,544.40h3.8M818.40,544.40h-3.8M498.30,694.40h1.9M818.40,694.40h-1.9M498.30,594.40h1.9M818.40,594.40h-1.9" stroke="#000" stroke-width="0.8" fill="none"/>
<rect x="498.3" y="524.4" width="320.1" height="240.0" fill="none" stroke="#000" stroke-width="0.8"/>
<text x="487.8" y="750.7" font-size="18" text-anchor="end">0</text>
<text x="487.8" y="650.7" font-size="18" text-anchor="end">0.5</text>
<text x="487.8" y="550.7" font-size="18" text-anchor="end">1</text>
<text transform="translate(448.5,644.4) rotate(-90)" font-size="22.6" text-anchor="middle">S<tspan font-size="15.8" dy="5">LL</tspan><tspan dy="-5">(</tspan><tspan font-style="italic" dy="0.8">ω</tspan><tspan dy="1.7">=</tspan><tspan dy="-2.5">0) / S</tspan><tspan font-size="15.8" dy="5">0</tspan></text>
<text x="742.2" y="572.2" font-size="28">(g)</text>
<rect x="745.10" y="724.10" width="73.30" height="40.3" fill="#fff" stroke="#000" stroke-width="0.8"/>
<text x="806.7" y="751.6" font-size="22.6" text-anchor="end">U=Γ<tspan font-size="15.8" dy="4.5">0</tspan><tspan dy="-4.5"></tspan></text>
<rect x="506.70" y="532.20" width="120.4" height="89.8" fill="#fff" stroke="none"/>
<clipPath id="c12"><rect x="506.70" y="532.20" width="120.4" height="89.8"/></clipPath>
<g clip-path="url(#c12)" fill="none">
<path d="M506.70,614.52 L507.30,614.52 L507.90,614.52 L508.51,614.52 L509.11,614.52 L509.71,614.52 L510.31,614.52 L510.91,614.52 L511.52,614.52 L512.12,614.52 L512.72,614.52 L513.32,614.52 L513.92,614.52 L514.53,614.52 L515.13,614.52 L515.73,614.52 L516.33,614.52 L516.93,614.52 L517.54,614.52 L518.14,614.52 L518.74,614.52 L519.34,614.52 L519.94,614.52 L520.55,614.52 L521.15,614.52 L521.75,614.52 L522.35,614.52 L522.95,614.52 L523.56,614.52 L524.16,614.52 L524.76,614.52 L525.36,614.52 L525.96,614.52 L526.57,614.52 L527.17,614.52 L527.77,614.52 L528.37,614.52 L528.97,614.52 L529.58,614.52 L530.18,614.52 L530.78,614.52 L531.38,614.52 L531.98,614.52 L532.59,614.52 L533.19,614.52 L533.79,614.52 L534.39,614.52 L534.99,614.51 L535.60,614.51 L536.20,614.51 L536.80,614.51 L537.40,614.51 L538.00,614.51 L538.61,614.51 L539.21,614.51 L539.81,614.51 L540.41,614.51 L541.01,614.50 L541.62,614.50 L542.22,614.50 L542.82,614.49 L543.42,614.49 L544.02,614.48 L544.63,614.47 L545.23,614.46 L545.83,614.45 L546.43,614.43 L547.03,614.42 L547.64,614.39 L548.24,614.37 L548.84,614.33 L549.44,614.29 L550.04,614.24 L550.65,614.18 L551.25,614.11 L551.85,614.02 L552.45,613.91 L553.05,613.77 L553.66,613.61 L554.26,613.41 L554.86,613.17 L555.46,612.91 L556.06,612.66 L556.67,612.38 L557.27,612.05 L557.87,611.65 L558.47,611.14 L559.07,610.51 L559.68,609.70 L560.28,608.70 L560.88,607.46 L561.48,605.95 L562.08,604.13 L562.69,601.99 L563.29,599.53 L563.89,596.77 L564.49,593.74 L565.09,590.47 L565.70,587.02 L566.30,583.45 L566.90,580.12 L567.50,577.30 L568.10,574.93 L568.71,572.93 L569.31,571.23 L569.91,569.73 L570.51,568.33 L571.11,566.90 L571.72,565.31 L572.32,563.46 L572.92,561.62 L573.52,559.90 L574.12,558.28 L574.73,556.77 L575.33,555.37 L575.93,554.07 L576.53,552.89 L577.13,551.83 L577.74,550.90 L578.34,550.06 L578.94,549.25 L579.54,548.46 L580.14,547.69 L580.75,546.96 L581.35,546.26 L581.95,545.61 L582.55,545.01 L583.15,544.47 L583.76,544.00 L584.36,543.57 L584.96,543.16 L585.56,542.77 L586.16,542.41 L586.77,542.06 L587.37,541.75 L587.97,541.46 L588.57,541.19 L589.17,540.95 L589.78,540.74 L590.38,540.53 L590.98,540.32 L591.58,540.12 L592.18,539.95 L592.79,539.82 L593.39,539.73 L593.99,539.69 L594.59,539.69 L595.19,539.69 L595.80,539.69 L596.40,539.69 L597.00,539.69 L597.60,539.69 L598.20,539.69 L598.81,539.69 L599.41,539.68 L600.01,539.68 L600.61,539.68 L601.21,539.68 L601.82,539.68 L602.42,539.68 L603.02,539.68 L603.62,539.68 L604.22,539.68 L604.83,539.68 L605.43,539.68 L606.03,539.68 L606.63,539.68 L607.23,539.68 L607.84,539.68 L608.44,539.68 L609.04,539.68 L609.64,539.68 L610.24,539.68 L610.85,539.68 L611.45,539.68 L612.05,539.68 L612.65,539.68 L613.25,539.68 L613.86,539.68 L614.46,539.68 L615.06,539.68 L615.66,539.68 L616.26,539.68 L616.87,539.68 L617.47,539.68 L618.07,539.68 L618.67,539.68 L619.27,539.68 L619.88,539.68 L620.48,539.68 L621.08,539.68 L621.68,539.68 L622.28,539.68 L622.89,539.68 L623.49,539.68 L624.09,539.68 L624.69,539.68 L625.29,539.68 L625.90,539.68 L626.50,539.68 L627.10,539.68" stroke="#000" stroke-width="1.25" stroke-dasharray="1.25 2.25"/>
<path d="M506.70,614.52 L507.30,614.40 L507.90,614.29 L508.51,614.18 L509.11,614.07 L509.71,613.95 L510.31,613.84 L510.91,613.73 L511.52,613.61 L512.12,613.50 L512.72,613.38 L513.32,613.27 L513.92,613.15 L514.53,613.03 L515.13,612.91 L515.73,612.80 L516.33,612.68 L516.93,612.55 L517.54,612.43 L518.14,612.31 L518.74,612.19 L519.34,612.06 L519.94,611.93 L520.55,611.80 L521.15,611.67 L521.75,611.54 L522.35,611.41 L522.95,611.27 L523.56,611.14 L524.16,611.00 L524.76,610.86 L525.36,610.71 L525.96,610.57 L526.57,610.42 L527.17,610.27 L527.77,610.12 L528.37,609.96 L528.97,609.80 L529.58,609.64 L530.18,609.47 L530.78,609.30 L531.38,609.13 L531.98,608.95 L532.59,608.77 L533.19,608.59 L533.79,608.40 L534.39,608.21 L534.99,608.01 L535.60,607.80 L536.20,607.60 L536.80,607.38 L537.40,607.16 L538.00,606.94 L538.61,606.71 L539.21,606.47 L539.81,606.22 L540.41,605.97 L541.01,605.71 L541.62,605.44 L542.22,605.17 L542.82,604.88 L543.42,604.59 L544.02,604.28 L544.63,603.97 L545.23,603.65 L545.83,603.31 L546.43,602.97 L547.03,602.61 L547.64,602.24 L548.24,601.85 L548.84,601.46 L549.44,601.04 L550.04,600.61 L550.65,600.17 L551.25,599.71 L551.85,599.23 L552.45,598.74 L553.05,598.22 L553.66,597.68 L554.26,597.13 L554.86,596.55 L555.46,595.95 L556.06,595.32 L556.67,594.68 L557.27,594.00 L557.87,593.30 L558.47,592.58 L559.07,591.83 L559.68,591.05 L560.28,590.25 L560.88,589.43 L561.48,588.57 L562.08,587.70 L562.69,586.80 L563.29,585.88 L563.89,584.94 L564.49,583.98 L565.09,583.02 L565.70,582.04 L566.30,581.05 L566.90,580.06 L567.50,579.07 L568.10,578.09 L568.71,577.11 L569.31,576.15 L569.91,575.19 L570.51,574.25 L571.11,573.34 L571.72,572.44 L572.32,571.57 L572.92,570.72 L573.52,569.89 L574.12,569.09 L574.73,568.32 L575.33,567.57 L575.93,566.85 L576.53,566.16 L577.13,565.49 L577.74,564.85 L578.34,564.23 L578.94,563.64 L579.54,563.06 L580.14,562.51 L580.75,561.98 L581.35,561.48 L581.95,560.99 L582.55,560.52 L583.15,560.06 L583.76,559.63 L584.36,559.21 L584.96,558.80 L585.56,558.42 L586.16,558.04 L586.77,557.68 L587.37,557.33 L587.97,557.00 L588.57,556.67 L589.17,556.36 L589.78,556.06 L590.38,555.77 L590.98,555.49 L591.58,555.21 L592.18,554.95 L592.79,554.70 L593.39,554.45 L593.99,554.21 L594.59,553.98 L595.19,553.76 L595.80,553.54 L596.40,553.33 L597.00,553.13 L597.60,552.93 L598.20,552.74 L598.81,552.56 L599.41,552.38 L600.01,552.20 L600.61,552.03 L601.21,551.86 L601.82,551.70 L602.42,551.55 L603.02,551.39 L603.62,551.25 L604.22,551.10 L604.83,550.96 L605.43,550.82 L606.03,550.69 L606.63,550.56 L607.23,550.43 L607.84,550.31 L608.44,550.19 L609.04,550.07 L609.64,549.96 L610.24,549.84 L610.85,549.74 L611.45,549.63 L612.05,549.52 L612.65,549.42 L613.25,549.32 L613.86,549.22 L614.46,549.13 L615.06,549.03 L615.66,548.94 L616.26,548.85 L616.87,548.76 L617.47,548.68 L618.07,548.59 L618.67,548.51 L619.27,548.43 L619.88,548.35 L620.48,548.27 L621.08,548.20 L621.68,548.12 L622.28,548.05 L622.89,547.98 L623.49,547.91 L624.09,547.84 L624.69,547.77 L625.29,547.70 L625.90,547.64 L626.50,547.57 L627.10,547.51" stroke="#ff0000" stroke-width="0.8"/>
<path d="M506.70,614.52 L507.30,614.40 L507.90,614.29 L508.51,614.18 L509.11,614.07 L509.71,613.95 L510.31,613.84 L510.91,613.73 L511.52,613.61 L512.12,613.50 L512.72,613.38 L513.32,613.27 L513.92,613.15 L514.53,613.03 L515.13,612.91 L515.73,612.80 L516.33,612.68 L516.93,612.55 L517.54,612.43 L518.14,612.31 L518.74,612.19 L519.34,612.06 L519.94,611.93 L520.55,611.80 L521.15,611.67 L521.75,611.54 L522.35,611.41 L522.95,611.27 L523.56,611.14 L524.16,611.00 L524.76,610.86 L525.36,610.71 L525.96,610.57 L526.57,610.42 L527.17,610.27 L527.77,610.12 L528.37,609.96 L528.97,609.80 L529.58,609.64 L530.18,609.47 L530.78,609.30 L531.38,609.13 L531.98,608.95 L532.59,608.77 L533.19,608.59 L533.79,608.40 L534.39,608.21 L534.99,608.01 L535.60,607.80 L536.20,607.60 L536.80,607.38 L537.40,607.16 L538.00,606.94 L538.61,606.71 L539.21,606.47 L539.81,606.22 L540.41,605.97 L541.01,605.71 L541.62,605.44 L542.22,605.17 L542.82,604.88 L543.42,604.59 L544.02,604.30 L544.63,604.02 L545.23,603.72 L545.83,603.43 L546.43,603.13 L547.03,602.83 L547.64,602.52 L548.24,602.20 L548.84,601.87 L549.44,601.53 L550.04,601.18 L550.65,600.82 L551.25,600.45 L551.85,600.05 L552.45,599.64 L553.05,599.22 L553.66,598.77 L554.26,598.30 L554.86,597.80 L555.46,597.29 L556.06,596.74 L556.67,596.17 L557.27,595.57 L557.87,594.95 L558.47,594.30 L559.07,593.62 L559.68,592.92 L560.28,592.19 L560.88,591.44 L561.48,590.67 L562.08,589.88 L562.69,589.07 L563.29,588.24 L563.89,587.40 L564.49,586.55 L565.09,585.69 L565.70,584.83 L566.30,583.97 L566.90,583.14 L567.50,582.36 L568.10,581.63 L568.71,580.94 L569.31,580.29 L569.91,579.67 L570.51,579.08 L571.11,578.50 L571.72,577.94 L572.32,577.38 L572.92,576.82 L573.52,576.25 L574.12,575.67 L574.73,575.06 L575.33,574.42 L575.93,573.74 L576.53,573.04 L577.13,572.36 L577.74,571.70 L578.34,571.05 L578.94,570.42 L579.54,569.81 L580.14,569.22 L580.75,568.64 L581.35,568.07 L581.95,567.53 L582.55,566.99 L583.15,566.48 L583.76,565.97 L584.36,565.48 L584.96,565.01 L585.56,564.55 L586.16,564.10 L586.77,563.64 L587.37,563.18 L587.97,562.71 L588.57,562.25 L589.17,561.79 L589.78,561.33 L590.38,560.88 L590.98,560.43 L591.58,559.99 L592.18,559.55 L592.79,559.13 L593.39,558.72 L593.99,558.32 L594.59,557.94 L595.19,557.58 L595.80,557.22 L596.40,556.87 L597.00,556.52 L597.60,556.17 L598.20,555.84 L598.81,555.50 L599.41,555.18 L600.01,554.86 L600.61,554.55 L601.21,554.25 L601.82,553.96 L602.42,553.68 L603.02,553.41 L603.62,553.15 L604.22,552.91 L604.83,552.68 L605.43,552.46 L606.03,552.25 L606.63,552.05 L607.23,551.85 L607.84,551.66 L608.44,551.47 L609.04,551.29 L609.64,551.12 L610.24,550.95 L610.85,550.78 L611.45,550.62 L612.05,550.46 L612.65,550.31 L613.25,550.16 L613.86,550.02 L614.46,549.88 L615.06,549.74 L615.66,549.60 L616.26,549.47 L616.87,549.34 L617.47,549.21 L618.07,549.08 L618.67,548.96 L619.27,548.84 L619.88,548.72 L620.48,548.60 L621.08,548.49 L621.68,548.38 L622.28,548.27 L622.89,548.17 L623.49,548.06 L624.09,547.96 L624.69,547.87 L625.29,547.77 L625.90,547.68 L626.50,547.59 L627.10,547.51" stroke="#0000ff" stroke-width="2.6" stroke-dasharray="6.1 5.2"/>
</g>
<path d="M566.90,622.00v-6.6M566.90,532.20v6.6M536.80,622.00v-3.5M536.80,532.20v3.5M597.00,622.00v-3.5M597.00,532.20v3.5M506.70,614.52h6.6M627.10,614.52h-6.6M506.70,577.10h6.6M627.10,577.10h-6.6M506.70,539.68h6.6M627.10,539.68h-6.6M506.70,595.81h3.5M627.10,595.81h-3.5M506.70,558.39h3.5M627.10,558.39h-3.5" stroke="#000" stroke-width="0.8" fill="none"/>
<rect x="506.70" y="532.20" width="120.4" height="89.8" fill="none" stroke="#000" stroke-width="0.8"/>
<text x="506.7" y="636.9" font-size="11.3" text-anchor="middle">0</text>
<text x="566.9" y="636.9" font-size="11.3" text-anchor="middle">10</text>
<text x="627.1" y="636.9" font-size="11.3" text-anchor="middle">20</text>
<text x="633.6" y="618.3" font-size="11.3">0</text>
<text x="633.6" y="580.9" font-size="11.3">0.5</text>
<text x="633.6" y="543.5" font-size="11.3">1</text>
<text x="514.2" y="550.4" font-size="14.3">I<tspan font-size="9.8" dy="2.8">L</tspan><tspan dy="-2.8"> / I</tspan><tspan font-size="9.8" dy="2.8">0</tspan></text>
<text x="566.9" y="655.6" font-size="14" text-anchor="middle">|e|V<tspan font-size="9.8" dy="2.8">sd</tspan><tspan dy="-2.8"> / Γ</tspan><tspan font-size="9.8" dy="2.8">0</tspan></text>
<text x="229.6" y="29.6" font-size="22.8" text-anchor="middle">Non-degenerate case</text>
<text x="69.5" y="787.7" font-size="18" text-anchor="middle">0</text>
<text x="229.6" y="787.7" font-size="18" text-anchor="middle">10</text>
<text x="389.6" y="787.7" font-size="18" text-anchor="middle">20</text>
<text x="229.6" y="817.9" font-size="22.6" text-anchor="middle">|e|V<tspan font-size="15.8" dy="4.5">sd</tspan><tspan dy="-4.5"> / Γ</tspan><tspan font-size="15.8" dy="4.5">0</tspan></text>
<text x="658.4" y="29.6" font-size="22.8" text-anchor="middle">Degenerate case</text>
<text x="498.3" y="787.7" font-size="18" text-anchor="middle">0</text>
<text x="658.4" y="787.7" font-size="18" text-anchor="middle">10</text>
<text x="818.4" y="787.7" font-size="18" text-anchor="middle">20</text>
<text x="658.4" y="817.9" font-size="22.6" text-anchor="middle">|e|V<tspan font-size="15.8" dy="4.5">sd</tspan><tspan dy="-4.5"> / Γ</tspan><tspan font-size="15.8" dy="4.5">0</tspan></text>
</svg>
</body></html>
